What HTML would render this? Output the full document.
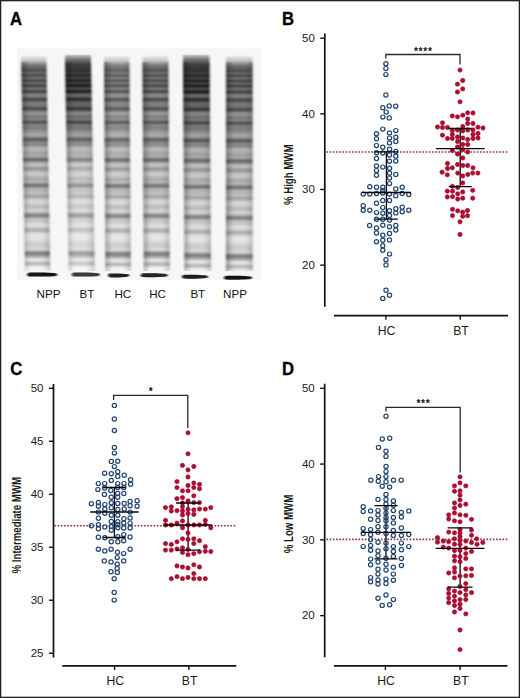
<!DOCTYPE html>
<html><head><meta charset="utf-8"><style>
html,body{margin:0;padding:0;background:#fff;}
svg{display:block;}
</style></head><body>
<svg width="520" height="698" viewBox="0 0 520 698">
<rect width="520" height="698" fill="#fff"/>
<defs><filter id="gblur" x="-10%" y="-10%" width="120%" height="120%"><feGaussianBlur stdDeviation="0.9 0.6"/></filter><linearGradient id="lg1" gradientUnits="userSpaceOnUse" x1="0" y1="48.0" x2="0" y2="280.0"><stop offset="0.0000" stop-color="rgb(246,246,246)"/><stop offset="0.0043" stop-color="rgb(246,246,246)"/><stop offset="0.0086" stop-color="rgb(246,246,246)"/><stop offset="0.0129" stop-color="rgb(246,246,246)"/><stop offset="0.0172" stop-color="rgb(246,246,246)"/><stop offset="0.0216" stop-color="rgb(246,246,246)"/><stop offset="0.0259" stop-color="rgb(246,246,246)"/><stop offset="0.0302" stop-color="rgb(246,246,246)"/><stop offset="0.0345" stop-color="rgb(236,236,236)"/><stop offset="0.0388" stop-color="rgb(226,226,226)"/><stop offset="0.0431" stop-color="rgb(216,216,216)"/><stop offset="0.0474" stop-color="rgb(207,207,207)"/><stop offset="0.0517" stop-color="rgb(198,198,198)"/><stop offset="0.0560" stop-color="rgb(187,187,187)"/><stop offset="0.0603" stop-color="rgb(173,173,173)"/><stop offset="0.0647" stop-color="rgb(156,156,156)"/><stop offset="0.0690" stop-color="rgb(137,137,137)"/><stop offset="0.0733" stop-color="rgb(124,124,124)"/><stop offset="0.0776" stop-color="rgb(113,113,113)"/><stop offset="0.0819" stop-color="rgb(105,105,105)"/><stop offset="0.0862" stop-color="rgb(98,98,98)"/><stop offset="0.0905" stop-color="rgb(93,93,93)"/><stop offset="0.0948" stop-color="rgb(85,85,85)"/><stop offset="0.0991" stop-color="rgb(84,84,84)"/><stop offset="0.1034" stop-color="rgb(95,95,95)"/><stop offset="0.1078" stop-color="rgb(103,103,103)"/><stop offset="0.1121" stop-color="rgb(96,96,96)"/><stop offset="0.1164" stop-color="rgb(82,82,82)"/><stop offset="0.1207" stop-color="rgb(83,83,83)"/><stop offset="0.1250" stop-color="rgb(99,99,99)"/><stop offset="0.1293" stop-color="rgb(109,109,109)"/><stop offset="0.1336" stop-color="rgb(99,99,99)"/><stop offset="0.1379" stop-color="rgb(81,81,81)"/><stop offset="0.1422" stop-color="rgb(78,78,78)"/><stop offset="0.1466" stop-color="rgb(93,93,93)"/><stop offset="0.1509" stop-color="rgb(104,104,104)"/><stop offset="0.1552" stop-color="rgb(95,95,95)"/><stop offset="0.1595" stop-color="rgb(79,79,79)"/><stop offset="0.1638" stop-color="rgb(75,75,75)"/><stop offset="0.1681" stop-color="rgb(90,90,90)"/><stop offset="0.1724" stop-color="rgb(108,108,108)"/><stop offset="0.1767" stop-color="rgb(110,110,110)"/><stop offset="0.1810" stop-color="rgb(94,94,94)"/><stop offset="0.1853" stop-color="rgb(77,77,77)"/><stop offset="0.1897" stop-color="rgb(77,77,77)"/><stop offset="0.1940" stop-color="rgb(97,97,97)"/><stop offset="0.1983" stop-color="rgb(119,119,119)"/><stop offset="0.2026" stop-color="rgb(131,131,131)"/><stop offset="0.2069" stop-color="rgb(130,130,130)"/><stop offset="0.2112" stop-color="rgb(116,116,116)"/><stop offset="0.2155" stop-color="rgb(94,94,94)"/><stop offset="0.2198" stop-color="rgb(77,77,77)"/><stop offset="0.2241" stop-color="rgb(77,77,77)"/><stop offset="0.2284" stop-color="rgb(94,94,94)"/><stop offset="0.2328" stop-color="rgb(114,114,114)"/><stop offset="0.2371" stop-color="rgb(123,123,123)"/><stop offset="0.2414" stop-color="rgb(123,123,123)"/><stop offset="0.2457" stop-color="rgb(121,121,121)"/><stop offset="0.2500" stop-color="rgb(115,115,115)"/><stop offset="0.2543" stop-color="rgb(101,101,101)"/><stop offset="0.2586" stop-color="rgb(85,85,85)"/><stop offset="0.2629" stop-color="rgb(81,81,81)"/><stop offset="0.2672" stop-color="rgb(95,95,95)"/><stop offset="0.2716" stop-color="rgb(119,119,119)"/><stop offset="0.2759" stop-color="rgb(138,138,138)"/><stop offset="0.2802" stop-color="rgb(147,147,147)"/><stop offset="0.2845" stop-color="rgb(146,146,146)"/><stop offset="0.2888" stop-color="rgb(138,138,138)"/><stop offset="0.2931" stop-color="rgb(128,128,128)"/><stop offset="0.2974" stop-color="rgb(125,125,125)"/><stop offset="0.3017" stop-color="rgb(129,129,129)"/><stop offset="0.3060" stop-color="rgb(132,132,132)"/><stop offset="0.3103" stop-color="rgb(123,123,123)"/><stop offset="0.3147" stop-color="rgb(103,103,103)"/><stop offset="0.3190" stop-color="rgb(89,89,89)"/><stop offset="0.3233" stop-color="rgb(94,94,94)"/><stop offset="0.3276" stop-color="rgb(112,112,112)"/><stop offset="0.3319" stop-color="rgb(129,129,129)"/><stop offset="0.3362" stop-color="rgb(131,131,131)"/><stop offset="0.3405" stop-color="rgb(127,127,127)"/><stop offset="0.3448" stop-color="rgb(127,127,127)"/><stop offset="0.3491" stop-color="rgb(133,133,133)"/><stop offset="0.3534" stop-color="rgb(139,139,139)"/><stop offset="0.3578" stop-color="rgb(145,145,145)"/><stop offset="0.3621" stop-color="rgb(152,152,152)"/><stop offset="0.3664" stop-color="rgb(161,161,161)"/><stop offset="0.3707" stop-color="rgb(167,167,167)"/><stop offset="0.3750" stop-color="rgb(167,167,167)"/><stop offset="0.3793" stop-color="rgb(159,159,159)"/><stop offset="0.3836" stop-color="rgb(142,142,142)"/><stop offset="0.3879" stop-color="rgb(119,119,119)"/><stop offset="0.3922" stop-color="rgb(100,100,100)"/><stop offset="0.3966" stop-color="rgb(99,99,99)"/><stop offset="0.4009" stop-color="rgb(113,113,113)"/><stop offset="0.4052" stop-color="rgb(131,131,131)"/><stop offset="0.4095" stop-color="rgb(138,138,138)"/><stop offset="0.4138" stop-color="rgb(136,136,136)"/><stop offset="0.4181" stop-color="rgb(139,139,139)"/><stop offset="0.4224" stop-color="rgb(151,151,151)"/><stop offset="0.4267" stop-color="rgb(167,167,167)"/><stop offset="0.4310" stop-color="rgb(178,178,178)"/><stop offset="0.4353" stop-color="rgb(182,182,182)"/><stop offset="0.4397" stop-color="rgb(181,181,181)"/><stop offset="0.4440" stop-color="rgb(175,175,175)"/><stop offset="0.4483" stop-color="rgb(168,168,168)"/><stop offset="0.4526" stop-color="rgb(163,163,163)"/><stop offset="0.4569" stop-color="rgb(165,165,165)"/><stop offset="0.4612" stop-color="rgb(169,169,169)"/><stop offset="0.4655" stop-color="rgb(169,169,169)"/><stop offset="0.4698" stop-color="rgb(157,157,157)"/><stop offset="0.4741" stop-color="rgb(135,135,135)"/><stop offset="0.4784" stop-color="rgb(115,115,115)"/><stop offset="0.4828" stop-color="rgb(112,112,112)"/><stop offset="0.4871" stop-color="rgb(128,128,128)"/><stop offset="0.4914" stop-color="rgb(154,154,154)"/><stop offset="0.4957" stop-color="rgb(176,176,176)"/><stop offset="0.5000" stop-color="rgb(188,188,188)"/><stop offset="0.5043" stop-color="rgb(190,190,190)"/><stop offset="0.5086" stop-color="rgb(183,183,183)"/><stop offset="0.5129" stop-color="rgb(170,170,170)"/><stop offset="0.5172" stop-color="rgb(157,157,157)"/><stop offset="0.5216" stop-color="rgb(153,153,153)"/><stop offset="0.5259" stop-color="rgb(162,162,162)"/><stop offset="0.5302" stop-color="rgb(178,178,178)"/><stop offset="0.5345" stop-color="rgb(191,191,191)"/><stop offset="0.5388" stop-color="rgb(197,197,197)"/><stop offset="0.5431" stop-color="rgb(199,199,199)"/><stop offset="0.5474" stop-color="rgb(198,198,198)"/><stop offset="0.5517" stop-color="rgb(192,192,192)"/><stop offset="0.5560" stop-color="rgb(183,183,183)"/><stop offset="0.5603" stop-color="rgb(174,174,174)"/><stop offset="0.5647" stop-color="rgb(170,170,170)"/><stop offset="0.5690" stop-color="rgb(173,173,173)"/><stop offset="0.5733" stop-color="rgb(179,179,179)"/><stop offset="0.5776" stop-color="rgb(177,177,177)"/><stop offset="0.5819" stop-color="rgb(163,163,163)"/><stop offset="0.5862" stop-color="rgb(140,140,140)"/><stop offset="0.5905" stop-color="rgb(121,121,121)"/><stop offset="0.5948" stop-color="rgb(122,122,122)"/><stop offset="0.5991" stop-color="rgb(141,141,141)"/><stop offset="0.6034" stop-color="rgb(165,165,165)"/><stop offset="0.6078" stop-color="rgb(179,179,179)"/><stop offset="0.6121" stop-color="rgb(182,182,182)"/><stop offset="0.6164" stop-color="rgb(182,182,182)"/><stop offset="0.6207" stop-color="rgb(186,186,186)"/><stop offset="0.6250" stop-color="rgb(190,190,190)"/><stop offset="0.6293" stop-color="rgb(186,186,186)"/><stop offset="0.6336" stop-color="rgb(175,175,175)"/><stop offset="0.6379" stop-color="rgb(166,166,166)"/><stop offset="0.6422" stop-color="rgb(170,170,170)"/><stop offset="0.6466" stop-color="rgb(184,184,184)"/><stop offset="0.6509" stop-color="rgb(199,199,199)"/><stop offset="0.6552" stop-color="rgb(208,208,208)"/><stop offset="0.6595" stop-color="rgb(213,213,213)"/><stop offset="0.6638" stop-color="rgb(213,213,213)"/><stop offset="0.6681" stop-color="rgb(210,210,210)"/><stop offset="0.6724" stop-color="rgb(204,204,204)"/><stop offset="0.6767" stop-color="rgb(196,196,196)"/><stop offset="0.6810" stop-color="rgb(189,189,189)"/><stop offset="0.6853" stop-color="rgb(189,189,189)"/><stop offset="0.6897" stop-color="rgb(195,195,195)"/><stop offset="0.6940" stop-color="rgb(204,204,204)"/><stop offset="0.6983" stop-color="rgb(210,210,210)"/><stop offset="0.7026" stop-color="rgb(208,208,208)"/><stop offset="0.7069" stop-color="rgb(197,197,197)"/><stop offset="0.7112" stop-color="rgb(177,177,177)"/><stop offset="0.7155" stop-color="rgb(153,153,153)"/><stop offset="0.7198" stop-color="rgb(136,136,136)"/><stop offset="0.7241" stop-color="rgb(136,136,136)"/><stop offset="0.7284" stop-color="rgb(153,153,153)"/><stop offset="0.7328" stop-color="rgb(176,176,176)"/><stop offset="0.7371" stop-color="rgb(193,193,193)"/><stop offset="0.7414" stop-color="rgb(199,199,199)"/><stop offset="0.7457" stop-color="rgb(200,200,200)"/><stop offset="0.7500" stop-color="rgb(204,204,204)"/><stop offset="0.7543" stop-color="rgb(212,212,212)"/><stop offset="0.7586" stop-color="rgb(219,219,219)"/><stop offset="0.7629" stop-color="rgb(222,222,222)"/><stop offset="0.7672" stop-color="rgb(220,220,220)"/><stop offset="0.7716" stop-color="rgb(212,212,212)"/><stop offset="0.7759" stop-color="rgb(198,198,198)"/><stop offset="0.7802" stop-color="rgb(184,184,184)"/><stop offset="0.7845" stop-color="rgb(177,177,177)"/><stop offset="0.7888" stop-color="rgb(182,182,182)"/><stop offset="0.7931" stop-color="rgb(197,197,197)"/><stop offset="0.7974" stop-color="rgb(212,212,212)"/><stop offset="0.8017" stop-color="rgb(222,222,222)"/><stop offset="0.8060" stop-color="rgb(227,227,227)"/><stop offset="0.8103" stop-color="rgb(229,229,229)"/><stop offset="0.8147" stop-color="rgb(229,229,229)"/><stop offset="0.8190" stop-color="rgb(229,229,229)"/><stop offset="0.8233" stop-color="rgb(227,227,227)"/><stop offset="0.8276" stop-color="rgb(224,224,224)"/><stop offset="0.8319" stop-color="rgb(218,218,218)"/><stop offset="0.8362" stop-color="rgb(213,213,213)"/><stop offset="0.8405" stop-color="rgb(209,209,209)"/><stop offset="0.8448" stop-color="rgb(207,207,207)"/><stop offset="0.8491" stop-color="rgb(206,206,206)"/><stop offset="0.8534" stop-color="rgb(206,206,206)"/><stop offset="0.8578" stop-color="rgb(209,209,209)"/><stop offset="0.8621" stop-color="rgb(215,215,215)"/><stop offset="0.8664" stop-color="rgb(215,215,215)"/><stop offset="0.8707" stop-color="rgb(202,202,202)"/><stop offset="0.8750" stop-color="rgb(178,178,178)"/><stop offset="0.8793" stop-color="rgb(150,150,150)"/><stop offset="0.8836" stop-color="rgb(132,132,132)"/><stop offset="0.8879" stop-color="rgb(134,134,134)"/><stop offset="0.8922" stop-color="rgb(148,148,148)"/><stop offset="0.8966" stop-color="rgb(165,165,165)"/><stop offset="0.9009" stop-color="rgb(184,184,184)"/><stop offset="0.9052" stop-color="rgb(206,206,206)"/><stop offset="0.9095" stop-color="rgb(224,224,224)"/><stop offset="0.9138" stop-color="rgb(229,229,229)"/><stop offset="0.9181" stop-color="rgb(221,221,221)"/><stop offset="0.9224" stop-color="rgb(204,204,204)"/><stop offset="0.9267" stop-color="rgb(189,189,189)"/><stop offset="0.9310" stop-color="rgb(187,187,187)"/><stop offset="0.9353" stop-color="rgb(202,202,202)"/><stop offset="0.9397" stop-color="rgb(222,222,222)"/><stop offset="0.9440" stop-color="rgb(236,236,236)"/><stop offset="0.9483" stop-color="rgb(243,243,243)"/><stop offset="0.9526" stop-color="rgb(245,245,245)"/><stop offset="0.9569" stop-color="rgb(246,246,246)"/><stop offset="0.9612" stop-color="rgb(246,246,246)"/><stop offset="0.9655" stop-color="rgb(246,246,246)"/><stop offset="0.9698" stop-color="rgb(246,246,246)"/><stop offset="0.9741" stop-color="rgb(246,246,246)"/><stop offset="0.9784" stop-color="rgb(246,246,246)"/><stop offset="0.9828" stop-color="rgb(246,246,246)"/><stop offset="0.9871" stop-color="rgb(246,246,246)"/><stop offset="0.9914" stop-color="rgb(246,246,246)"/><stop offset="0.9957" stop-color="rgb(246,246,246)"/><stop offset="1.0000" stop-color="rgb(246,246,246)"/></linearGradient><linearGradient id="eg1" x1="0" y1="0" x2="1" y2="0"><stop offset="0" stop-color="#000" stop-opacity="0.32"/><stop offset="0.15" stop-color="#000" stop-opacity="0.14"/><stop offset="0.3" stop-color="#000" stop-opacity="0"/><stop offset="0.7" stop-color="#000" stop-opacity="0"/><stop offset="0.87" stop-color="#000" stop-opacity="0.08"/><stop offset="1" stop-color="#000" stop-opacity="0.2"/></linearGradient><linearGradient id="lg2" gradientUnits="userSpaceOnUse" x1="0" y1="48.0" x2="0" y2="280.0"><stop offset="0.0000" stop-color="rgb(246,246,246)"/><stop offset="0.0043" stop-color="rgb(246,246,246)"/><stop offset="0.0086" stop-color="rgb(246,246,246)"/><stop offset="0.0129" stop-color="rgb(246,246,246)"/><stop offset="0.0172" stop-color="rgb(246,246,246)"/><stop offset="0.0216" stop-color="rgb(246,246,246)"/><stop offset="0.0259" stop-color="rgb(246,246,246)"/><stop offset="0.0302" stop-color="rgb(212,212,212)"/><stop offset="0.0345" stop-color="rgb(177,177,177)"/><stop offset="0.0388" stop-color="rgb(160,160,160)"/><stop offset="0.0431" stop-color="rgb(143,143,143)"/><stop offset="0.0474" stop-color="rgb(125,125,125)"/><stop offset="0.0517" stop-color="rgb(108,108,108)"/><stop offset="0.0560" stop-color="rgb(101,101,101)"/><stop offset="0.0603" stop-color="rgb(92,92,92)"/><stop offset="0.0647" stop-color="rgb(79,79,79)"/><stop offset="0.0690" stop-color="rgb(66,66,66)"/><stop offset="0.0733" stop-color="rgb(62,62,62)"/><stop offset="0.0776" stop-color="rgb(60,60,60)"/><stop offset="0.0819" stop-color="rgb(57,57,57)"/><stop offset="0.0862" stop-color="rgb(55,55,55)"/><stop offset="0.0905" stop-color="rgb(55,55,55)"/><stop offset="0.0948" stop-color="rgb(52,52,52)"/><stop offset="0.0991" stop-color="rgb(51,51,51)"/><stop offset="0.1034" stop-color="rgb(57,57,57)"/><stop offset="0.1078" stop-color="rgb(62,62,62)"/><stop offset="0.1121" stop-color="rgb(56,56,56)"/><stop offset="0.1164" stop-color="rgb(45,45,45)"/><stop offset="0.1207" stop-color="rgb(46,46,46)"/><stop offset="0.1250" stop-color="rgb(58,58,58)"/><stop offset="0.1293" stop-color="rgb(65,65,65)"/><stop offset="0.1336" stop-color="rgb(56,56,56)"/><stop offset="0.1379" stop-color="rgb(42,42,42)"/><stop offset="0.1422" stop-color="rgb(40,40,40)"/><stop offset="0.1466" stop-color="rgb(54,54,54)"/><stop offset="0.1509" stop-color="rgb(63,63,63)"/><stop offset="0.1552" stop-color="rgb(54,54,54)"/><stop offset="0.1595" stop-color="rgb(37,37,37)"/><stop offset="0.1638" stop-color="rgb(35,35,35)"/><stop offset="0.1681" stop-color="rgb(51,51,51)"/><stop offset="0.1724" stop-color="rgb(70,70,70)"/><stop offset="0.1767" stop-color="rgb(72,72,72)"/><stop offset="0.1810" stop-color="rgb(55,55,55)"/><stop offset="0.1853" stop-color="rgb(36,36,36)"/><stop offset="0.1897" stop-color="rgb(38,38,38)"/><stop offset="0.1940" stop-color="rgb(62,62,62)"/><stop offset="0.1983" stop-color="rgb(89,89,89)"/><stop offset="0.2026" stop-color="rgb(104,104,104)"/><stop offset="0.2069" stop-color="rgb(103,103,103)"/><stop offset="0.2112" stop-color="rgb(89,89,89)"/><stop offset="0.2155" stop-color="rgb(66,66,66)"/><stop offset="0.2198" stop-color="rgb(49,49,49)"/><stop offset="0.2241" stop-color="rgb(50,50,50)"/><stop offset="0.2284" stop-color="rgb(70,70,70)"/><stop offset="0.2328" stop-color="rgb(92,92,92)"/><stop offset="0.2371" stop-color="rgb(102,102,102)"/><stop offset="0.2414" stop-color="rgb(103,103,103)"/><stop offset="0.2457" stop-color="rgb(101,101,101)"/><stop offset="0.2500" stop-color="rgb(96,96,96)"/><stop offset="0.2543" stop-color="rgb(81,81,81)"/><stop offset="0.2586" stop-color="rgb(64,64,64)"/><stop offset="0.2629" stop-color="rgb(60,60,60)"/><stop offset="0.2672" stop-color="rgb(76,76,76)"/><stop offset="0.2716" stop-color="rgb(102,102,102)"/><stop offset="0.2759" stop-color="rgb(123,123,123)"/><stop offset="0.2802" stop-color="rgb(133,133,133)"/><stop offset="0.2845" stop-color="rgb(132,132,132)"/><stop offset="0.2888" stop-color="rgb(124,124,124)"/><stop offset="0.2931" stop-color="rgb(114,114,114)"/><stop offset="0.2974" stop-color="rgb(111,111,111)"/><stop offset="0.3017" stop-color="rgb(116,116,116)"/><stop offset="0.3060" stop-color="rgb(119,119,119)"/><stop offset="0.3103" stop-color="rgb(110,110,110)"/><stop offset="0.3147" stop-color="rgb(90,90,90)"/><stop offset="0.3190" stop-color="rgb(76,76,76)"/><stop offset="0.3233" stop-color="rgb(81,81,81)"/><stop offset="0.3276" stop-color="rgb(101,101,101)"/><stop offset="0.3319" stop-color="rgb(118,118,118)"/><stop offset="0.3362" stop-color="rgb(121,121,121)"/><stop offset="0.3405" stop-color="rgb(117,117,117)"/><stop offset="0.3448" stop-color="rgb(117,117,117)"/><stop offset="0.3491" stop-color="rgb(124,124,124)"/><stop offset="0.3534" stop-color="rgb(131,131,131)"/><stop offset="0.3578" stop-color="rgb(137,137,137)"/><stop offset="0.3621" stop-color="rgb(145,145,145)"/><stop offset="0.3664" stop-color="rgb(155,155,155)"/><stop offset="0.3707" stop-color="rgb(161,161,161)"/><stop offset="0.3750" stop-color="rgb(162,162,162)"/><stop offset="0.3793" stop-color="rgb(156,156,156)"/><stop offset="0.3836" stop-color="rgb(140,140,140)"/><stop offset="0.3879" stop-color="rgb(119,119,119)"/><stop offset="0.3922" stop-color="rgb(103,103,103)"/><stop offset="0.3966" stop-color="rgb(102,102,102)"/><stop offset="0.4009" stop-color="rgb(117,117,117)"/><stop offset="0.4052" stop-color="rgb(134,134,134)"/><stop offset="0.4095" stop-color="rgb(142,142,142)"/><stop offset="0.4138" stop-color="rgb(142,142,142)"/><stop offset="0.4181" stop-color="rgb(145,145,145)"/><stop offset="0.4224" stop-color="rgb(157,157,157)"/><stop offset="0.4267" stop-color="rgb(172,172,172)"/><stop offset="0.4310" stop-color="rgb(183,183,183)"/><stop offset="0.4353" stop-color="rgb(187,187,187)"/><stop offset="0.4397" stop-color="rgb(186,186,186)"/><stop offset="0.4440" stop-color="rgb(182,182,182)"/><stop offset="0.4483" stop-color="rgb(177,177,177)"/><stop offset="0.4526" stop-color="rgb(174,174,174)"/><stop offset="0.4569" stop-color="rgb(175,175,175)"/><stop offset="0.4612" stop-color="rgb(180,180,180)"/><stop offset="0.4655" stop-color="rgb(180,180,180)"/><stop offset="0.4698" stop-color="rgb(171,171,171)"/><stop offset="0.4741" stop-color="rgb(154,154,154)"/><stop offset="0.4784" stop-color="rgb(138,138,138)"/><stop offset="0.4828" stop-color="rgb(137,137,137)"/><stop offset="0.4871" stop-color="rgb(151,151,151)"/><stop offset="0.4914" stop-color="rgb(172,172,172)"/><stop offset="0.4957" stop-color="rgb(190,190,190)"/><stop offset="0.5000" stop-color="rgb(200,200,200)"/><stop offset="0.5043" stop-color="rgb(202,202,202)"/><stop offset="0.5086" stop-color="rgb(197,197,197)"/><stop offset="0.5129" stop-color="rgb(187,187,187)"/><stop offset="0.5172" stop-color="rgb(178,178,178)"/><stop offset="0.5216" stop-color="rgb(176,176,176)"/><stop offset="0.5259" stop-color="rgb(183,183,183)"/><stop offset="0.5302" stop-color="rgb(195,195,195)"/><stop offset="0.5345" stop-color="rgb(205,205,205)"/><stop offset="0.5388" stop-color="rgb(210,210,210)"/><stop offset="0.5431" stop-color="rgb(211,211,211)"/><stop offset="0.5474" stop-color="rgb(210,210,210)"/><stop offset="0.5517" stop-color="rgb(205,205,205)"/><stop offset="0.5560" stop-color="rgb(199,199,199)"/><stop offset="0.5603" stop-color="rgb(192,192,192)"/><stop offset="0.5647" stop-color="rgb(189,189,189)"/><stop offset="0.5690" stop-color="rgb(191,191,191)"/><stop offset="0.5733" stop-color="rgb(196,196,196)"/><stop offset="0.5776" stop-color="rgb(195,195,195)"/><stop offset="0.5819" stop-color="rgb(184,184,184)"/><stop offset="0.5862" stop-color="rgb(166,166,166)"/><stop offset="0.5905" stop-color="rgb(152,152,152)"/><stop offset="0.5948" stop-color="rgb(153,153,153)"/><stop offset="0.5991" stop-color="rgb(167,167,167)"/><stop offset="0.6034" stop-color="rgb(185,185,185)"/><stop offset="0.6078" stop-color="rgb(196,196,196)"/><stop offset="0.6121" stop-color="rgb(198,198,198)"/><stop offset="0.6164" stop-color="rgb(198,198,198)"/><stop offset="0.6207" stop-color="rgb(201,201,201)"/><stop offset="0.6250" stop-color="rgb(204,204,204)"/><stop offset="0.6293" stop-color="rgb(201,201,201)"/><stop offset="0.6336" stop-color="rgb(193,193,193)"/><stop offset="0.6379" stop-color="rgb(186,186,186)"/><stop offset="0.6422" stop-color="rgb(189,189,189)"/><stop offset="0.6466" stop-color="rgb(199,199,199)"/><stop offset="0.6509" stop-color="rgb(210,210,210)"/><stop offset="0.6552" stop-color="rgb(218,218,218)"/><stop offset="0.6595" stop-color="rgb(221,221,221)"/><stop offset="0.6638" stop-color="rgb(221,221,221)"/><stop offset="0.6681" stop-color="rgb(219,219,219)"/><stop offset="0.6724" stop-color="rgb(214,214,214)"/><stop offset="0.6767" stop-color="rgb(208,208,208)"/><stop offset="0.6810" stop-color="rgb(203,203,203)"/><stop offset="0.6853" stop-color="rgb(203,203,203)"/><stop offset="0.6897" stop-color="rgb(208,208,208)"/><stop offset="0.6940" stop-color="rgb(214,214,214)"/><stop offset="0.6983" stop-color="rgb(219,219,219)"/><stop offset="0.7026" stop-color="rgb(218,218,218)"/><stop offset="0.7069" stop-color="rgb(210,210,210)"/><stop offset="0.7112" stop-color="rgb(194,194,194)"/><stop offset="0.7155" stop-color="rgb(176,176,176)"/><stop offset="0.7198" stop-color="rgb(164,164,164)"/><stop offset="0.7241" stop-color="rgb(164,164,164)"/><stop offset="0.7284" stop-color="rgb(177,177,177)"/><stop offset="0.7328" stop-color="rgb(194,194,194)"/><stop offset="0.7371" stop-color="rgb(206,206,206)"/><stop offset="0.7414" stop-color="rgb(211,211,211)"/><stop offset="0.7457" stop-color="rgb(212,212,212)"/><stop offset="0.7500" stop-color="rgb(215,215,215)"/><stop offset="0.7543" stop-color="rgb(220,220,220)"/><stop offset="0.7586" stop-color="rgb(226,226,226)"/><stop offset="0.7629" stop-color="rgb(228,228,228)"/><stop offset="0.7672" stop-color="rgb(226,226,226)"/><stop offset="0.7716" stop-color="rgb(220,220,220)"/><stop offset="0.7759" stop-color="rgb(210,210,210)"/><stop offset="0.7802" stop-color="rgb(200,200,200)"/><stop offset="0.7845" stop-color="rgb(194,194,194)"/><stop offset="0.7888" stop-color="rgb(198,198,198)"/><stop offset="0.7931" stop-color="rgb(209,209,209)"/><stop offset="0.7974" stop-color="rgb(220,220,220)"/><stop offset="0.8017" stop-color="rgb(228,228,228)"/><stop offset="0.8060" stop-color="rgb(232,232,232)"/><stop offset="0.8103" stop-color="rgb(233,233,233)"/><stop offset="0.8147" stop-color="rgb(234,234,234)"/><stop offset="0.8190" stop-color="rgb(233,233,233)"/><stop offset="0.8233" stop-color="rgb(232,232,232)"/><stop offset="0.8276" stop-color="rgb(229,229,229)"/><stop offset="0.8319" stop-color="rgb(225,225,225)"/><stop offset="0.8362" stop-color="rgb(221,221,221)"/><stop offset="0.8405" stop-color="rgb(218,218,218)"/><stop offset="0.8448" stop-color="rgb(217,217,217)"/><stop offset="0.8491" stop-color="rgb(216,216,216)"/><stop offset="0.8534" stop-color="rgb(216,216,216)"/><stop offset="0.8578" stop-color="rgb(218,218,218)"/><stop offset="0.8621" stop-color="rgb(223,223,223)"/><stop offset="0.8664" stop-color="rgb(223,223,223)"/><stop offset="0.8707" stop-color="rgb(213,213,213)"/><stop offset="0.8750" stop-color="rgb(195,195,195)"/><stop offset="0.8793" stop-color="rgb(174,174,174)"/><stop offset="0.8836" stop-color="rgb(161,161,161)"/><stop offset="0.8879" stop-color="rgb(162,162,162)"/><stop offset="0.8922" stop-color="rgb(173,173,173)"/><stop offset="0.8966" stop-color="rgb(186,186,186)"/><stop offset="0.9009" stop-color="rgb(200,200,200)"/><stop offset="0.9052" stop-color="rgb(216,216,216)"/><stop offset="0.9095" stop-color="rgb(229,229,229)"/><stop offset="0.9138" stop-color="rgb(233,233,233)"/><stop offset="0.9181" stop-color="rgb(227,227,227)"/><stop offset="0.9224" stop-color="rgb(214,214,214)"/><stop offset="0.9267" stop-color="rgb(203,203,203)"/><stop offset="0.9310" stop-color="rgb(202,202,202)"/><stop offset="0.9353" stop-color="rgb(213,213,213)"/><stop offset="0.9397" stop-color="rgb(228,228,228)"/><stop offset="0.9440" stop-color="rgb(239,239,239)"/><stop offset="0.9483" stop-color="rgb(244,244,244)"/><stop offset="0.9526" stop-color="rgb(246,246,246)"/><stop offset="0.9569" stop-color="rgb(246,246,246)"/><stop offset="0.9612" stop-color="rgb(246,246,246)"/><stop offset="0.9655" stop-color="rgb(246,246,246)"/><stop offset="0.9698" stop-color="rgb(246,246,246)"/><stop offset="0.9741" stop-color="rgb(246,246,246)"/><stop offset="0.9784" stop-color="rgb(246,246,246)"/><stop offset="0.9828" stop-color="rgb(246,246,246)"/><stop offset="0.9871" stop-color="rgb(246,246,246)"/><stop offset="0.9914" stop-color="rgb(246,246,246)"/><stop offset="0.9957" stop-color="rgb(246,246,246)"/><stop offset="1.0000" stop-color="rgb(246,246,246)"/></linearGradient><linearGradient id="eg2" x1="0" y1="0" x2="1" y2="0"><stop offset="0" stop-color="#000" stop-opacity="0.32"/><stop offset="0.15" stop-color="#000" stop-opacity="0.14"/><stop offset="0.3" stop-color="#000" stop-opacity="0"/><stop offset="0.7" stop-color="#000" stop-opacity="0"/><stop offset="0.87" stop-color="#000" stop-opacity="0.08"/><stop offset="1" stop-color="#000" stop-opacity="0.2"/></linearGradient><linearGradient id="lg3" gradientUnits="userSpaceOnUse" x1="0" y1="48.0" x2="0" y2="280.0"><stop offset="0.0000" stop-color="rgb(246,246,246)"/><stop offset="0.0043" stop-color="rgb(246,246,246)"/><stop offset="0.0086" stop-color="rgb(246,246,246)"/><stop offset="0.0129" stop-color="rgb(246,246,246)"/><stop offset="0.0172" stop-color="rgb(246,246,246)"/><stop offset="0.0216" stop-color="rgb(246,246,246)"/><stop offset="0.0259" stop-color="rgb(246,246,246)"/><stop offset="0.0302" stop-color="rgb(246,246,246)"/><stop offset="0.0345" stop-color="rgb(238,238,238)"/><stop offset="0.0388" stop-color="rgb(229,229,229)"/><stop offset="0.0431" stop-color="rgb(221,221,221)"/><stop offset="0.0474" stop-color="rgb(213,213,213)"/><stop offset="0.0517" stop-color="rgb(205,205,205)"/><stop offset="0.0560" stop-color="rgb(196,196,196)"/><stop offset="0.0603" stop-color="rgb(183,183,183)"/><stop offset="0.0647" stop-color="rgb(167,167,167)"/><stop offset="0.0690" stop-color="rgb(150,150,150)"/><stop offset="0.0733" stop-color="rgb(138,138,138)"/><stop offset="0.0776" stop-color="rgb(128,128,128)"/><stop offset="0.0819" stop-color="rgb(120,120,120)"/><stop offset="0.0862" stop-color="rgb(114,114,114)"/><stop offset="0.0905" stop-color="rgb(110,110,110)"/><stop offset="0.0948" stop-color="rgb(102,102,102)"/><stop offset="0.0991" stop-color="rgb(101,101,101)"/><stop offset="0.1034" stop-color="rgb(111,111,111)"/><stop offset="0.1078" stop-color="rgb(120,120,120)"/><stop offset="0.1121" stop-color="rgb(114,114,114)"/><stop offset="0.1164" stop-color="rgb(99,99,99)"/><stop offset="0.1207" stop-color="rgb(99,99,99)"/><stop offset="0.1250" stop-color="rgb(114,114,114)"/><stop offset="0.1293" stop-color="rgb(125,125,125)"/><stop offset="0.1336" stop-color="rgb(117,117,117)"/><stop offset="0.1379" stop-color="rgb(99,99,99)"/><stop offset="0.1422" stop-color="rgb(94,94,94)"/><stop offset="0.1466" stop-color="rgb(108,108,108)"/><stop offset="0.1509" stop-color="rgb(120,120,120)"/><stop offset="0.1552" stop-color="rgb(113,113,113)"/><stop offset="0.1595" stop-color="rgb(96,96,96)"/><stop offset="0.1638" stop-color="rgb(90,90,90)"/><stop offset="0.1681" stop-color="rgb(104,104,104)"/><stop offset="0.1724" stop-color="rgb(122,122,122)"/><stop offset="0.1767" stop-color="rgb(127,127,127)"/><stop offset="0.1810" stop-color="rgb(112,112,112)"/><stop offset="0.1853" stop-color="rgb(94,94,94)"/><stop offset="0.1897" stop-color="rgb(92,92,92)"/><stop offset="0.1940" stop-color="rgb(110,110,110)"/><stop offset="0.1983" stop-color="rgb(132,132,132)"/><stop offset="0.2026" stop-color="rgb(146,146,146)"/><stop offset="0.2069" stop-color="rgb(146,146,146)"/><stop offset="0.2112" stop-color="rgb(134,134,134)"/><stop offset="0.2155" stop-color="rgb(113,113,113)"/><stop offset="0.2198" stop-color="rgb(95,95,95)"/><stop offset="0.2241" stop-color="rgb(92,92,92)"/><stop offset="0.2284" stop-color="rgb(106,106,106)"/><stop offset="0.2328" stop-color="rgb(126,126,126)"/><stop offset="0.2371" stop-color="rgb(137,137,137)"/><stop offset="0.2414" stop-color="rgb(138,138,138)"/><stop offset="0.2457" stop-color="rgb(136,136,136)"/><stop offset="0.2500" stop-color="rgb(132,132,132)"/><stop offset="0.2543" stop-color="rgb(119,119,119)"/><stop offset="0.2586" stop-color="rgb(102,102,102)"/><stop offset="0.2629" stop-color="rgb(94,94,94)"/><stop offset="0.2672" stop-color="rgb(105,105,105)"/><stop offset="0.2716" stop-color="rgb(128,128,128)"/><stop offset="0.2759" stop-color="rgb(149,149,149)"/><stop offset="0.2802" stop-color="rgb(160,160,160)"/><stop offset="0.2845" stop-color="rgb(161,161,161)"/><stop offset="0.2888" stop-color="rgb(154,154,154)"/><stop offset="0.2931" stop-color="rgb(143,143,143)"/><stop offset="0.2974" stop-color="rgb(138,138,138)"/><stop offset="0.3017" stop-color="rgb(141,141,141)"/><stop offset="0.3060" stop-color="rgb(146,146,146)"/><stop offset="0.3103" stop-color="rgb(139,139,139)"/><stop offset="0.3147" stop-color="rgb(121,121,121)"/><stop offset="0.3190" stop-color="rgb(104,104,104)"/><stop offset="0.3233" stop-color="rgb(103,103,103)"/><stop offset="0.3276" stop-color="rgb(120,120,120)"/><stop offset="0.3319" stop-color="rgb(138,138,138)"/><stop offset="0.3362" stop-color="rgb(144,144,144)"/><stop offset="0.3405" stop-color="rgb(140,140,140)"/><stop offset="0.3448" stop-color="rgb(138,138,138)"/><stop offset="0.3491" stop-color="rgb(143,143,143)"/><stop offset="0.3534" stop-color="rgb(149,149,149)"/><stop offset="0.3578" stop-color="rgb(155,155,155)"/><stop offset="0.3621" stop-color="rgb(161,161,161)"/><stop offset="0.3664" stop-color="rgb(170,170,170)"/><stop offset="0.3707" stop-color="rgb(177,177,177)"/><stop offset="0.3750" stop-color="rgb(178,178,178)"/><stop offset="0.3793" stop-color="rgb(173,173,173)"/><stop offset="0.3836" stop-color="rgb(159,159,159)"/><stop offset="0.3879" stop-color="rgb(136,136,136)"/><stop offset="0.3922" stop-color="rgb(115,115,115)"/><stop offset="0.3966" stop-color="rgb(107,107,107)"/><stop offset="0.4009" stop-color="rgb(118,118,118)"/><stop offset="0.4052" stop-color="rgb(136,136,136)"/><stop offset="0.4095" stop-color="rgb(147,147,147)"/><stop offset="0.4138" stop-color="rgb(147,147,147)"/><stop offset="0.4181" stop-color="rgb(146,146,146)"/><stop offset="0.4224" stop-color="rgb(156,156,156)"/><stop offset="0.4267" stop-color="rgb(172,172,172)"/><stop offset="0.4310" stop-color="rgb(185,185,185)"/><stop offset="0.4353" stop-color="rgb(191,191,191)"/><stop offset="0.4397" stop-color="rgb(191,191,191)"/><stop offset="0.4440" stop-color="rgb(187,187,187)"/><stop offset="0.4483" stop-color="rgb(179,179,179)"/><stop offset="0.4526" stop-color="rgb(173,173,173)"/><stop offset="0.4569" stop-color="rgb(172,172,172)"/><stop offset="0.4612" stop-color="rgb(176,176,176)"/><stop offset="0.4655" stop-color="rgb(179,179,179)"/><stop offset="0.4698" stop-color="rgb(171,171,171)"/><stop offset="0.4741" stop-color="rgb(151,151,151)"/><stop offset="0.4784" stop-color="rgb(129,129,129)"/><stop offset="0.4828" stop-color="rgb(118,118,118)"/><stop offset="0.4871" stop-color="rgb(127,127,127)"/><stop offset="0.4914" stop-color="rgb(151,151,151)"/><stop offset="0.4957" stop-color="rgb(176,176,176)"/><stop offset="0.5000" stop-color="rgb(192,192,192)"/><stop offset="0.5043" stop-color="rgb(197,197,197)"/><stop offset="0.5086" stop-color="rgb(194,194,194)"/><stop offset="0.5129" stop-color="rgb(183,183,183)"/><stop offset="0.5172" stop-color="rgb(169,169,169)"/><stop offset="0.5216" stop-color="rgb(160,160,160)"/><stop offset="0.5259" stop-color="rgb(164,164,164)"/><stop offset="0.5302" stop-color="rgb(178,178,178)"/><stop offset="0.5345" stop-color="rgb(193,193,193)"/><stop offset="0.5388" stop-color="rgb(202,202,202)"/><stop offset="0.5431" stop-color="rgb(206,206,206)"/><stop offset="0.5474" stop-color="rgb(205,205,205)"/><stop offset="0.5517" stop-color="rgb(201,201,201)"/><stop offset="0.5560" stop-color="rgb(194,194,194)"/><stop offset="0.5603" stop-color="rgb(184,184,184)"/><stop offset="0.5647" stop-color="rgb(177,177,177)"/><stop offset="0.5690" stop-color="rgb(177,177,177)"/><stop offset="0.5733" stop-color="rgb(183,183,183)"/><stop offset="0.5776" stop-color="rgb(186,186,186)"/><stop offset="0.5819" stop-color="rgb(177,177,177)"/><stop offset="0.5862" stop-color="rgb(157,157,157)"/><stop offset="0.5905" stop-color="rgb(134,134,134)"/><stop offset="0.5948" stop-color="rgb(125,125,125)"/><stop offset="0.5991" stop-color="rgb(136,136,136)"/><stop offset="0.6034" stop-color="rgb(159,159,159)"/><stop offset="0.6078" stop-color="rgb(179,179,179)"/><stop offset="0.6121" stop-color="rgb(187,187,187)"/><stop offset="0.6164" stop-color="rgb(187,187,187)"/><stop offset="0.6207" stop-color="rgb(189,189,189)"/><stop offset="0.6250" stop-color="rgb(194,194,194)"/><stop offset="0.6293" stop-color="rgb(194,194,194)"/><stop offset="0.6336" stop-color="rgb(186,186,186)"/><stop offset="0.6379" stop-color="rgb(175,175,175)"/><stop offset="0.6422" stop-color="rgb(171,171,171)"/><stop offset="0.6466" stop-color="rgb(181,181,181)"/><stop offset="0.6509" stop-color="rgb(196,196,196)"/><stop offset="0.6552" stop-color="rgb(209,209,209)"/><stop offset="0.6595" stop-color="rgb(216,216,216)"/><stop offset="0.6638" stop-color="rgb(218,218,218)"/><stop offset="0.6681" stop-color="rgb(217,217,217)"/><stop offset="0.6724" stop-color="rgb(212,212,212)"/><stop offset="0.6767" stop-color="rgb(205,205,205)"/><stop offset="0.6810" stop-color="rgb(196,196,196)"/><stop offset="0.6853" stop-color="rgb(192,192,192)"/><stop offset="0.6897" stop-color="rgb(195,195,195)"/><stop offset="0.6940" stop-color="rgb(203,203,203)"/><stop offset="0.6983" stop-color="rgb(211,211,211)"/><stop offset="0.7026" stop-color="rgb(214,214,214)"/><stop offset="0.7069" stop-color="rgb(209,209,209)"/><stop offset="0.7112" stop-color="rgb(194,194,194)"/><stop offset="0.7155" stop-color="rgb(171,171,171)"/><stop offset="0.7198" stop-color="rgb(148,148,148)"/><stop offset="0.7241" stop-color="rgb(137,137,137)"/><stop offset="0.7284" stop-color="rgb(145,145,145)"/><stop offset="0.7328" stop-color="rgb(166,166,166)"/><stop offset="0.7371" stop-color="rgb(188,188,188)"/><stop offset="0.7414" stop-color="rgb(200,200,200)"/><stop offset="0.7457" stop-color="rgb(203,203,203)"/><stop offset="0.7500" stop-color="rgb(205,205,205)"/><stop offset="0.7543" stop-color="rgb(210,210,210)"/><stop offset="0.7586" stop-color="rgb(218,218,218)"/><stop offset="0.7629" stop-color="rgb(224,224,224)"/><stop offset="0.7672" stop-color="rgb(225,225,225)"/><stop offset="0.7716" stop-color="rgb(221,221,221)"/><stop offset="0.7759" stop-color="rgb(210,210,210)"/><stop offset="0.7802" stop-color="rgb(196,196,196)"/><stop offset="0.7845" stop-color="rgb(183,183,183)"/><stop offset="0.7888" stop-color="rgb(180,180,180)"/><stop offset="0.7931" stop-color="rgb(190,190,190)"/><stop offset="0.7974" stop-color="rgb(205,205,205)"/><stop offset="0.8017" stop-color="rgb(219,219,219)"/><stop offset="0.8060" stop-color="rgb(227,227,227)"/><stop offset="0.8103" stop-color="rgb(230,230,230)"/><stop offset="0.8147" stop-color="rgb(232,232,232)"/><stop offset="0.8190" stop-color="rgb(232,232,232)"/><stop offset="0.8233" stop-color="rgb(231,231,231)"/><stop offset="0.8276" stop-color="rgb(229,229,229)"/><stop offset="0.8319" stop-color="rgb(224,224,224)"/><stop offset="0.8362" stop-color="rgb(218,218,218)"/><stop offset="0.8405" stop-color="rgb(213,213,213)"/><stop offset="0.8448" stop-color="rgb(210,210,210)"/><stop offset="0.8491" stop-color="rgb(209,209,209)"/><stop offset="0.8534" stop-color="rgb(207,207,207)"/><stop offset="0.8578" stop-color="rgb(208,208,208)"/><stop offset="0.8621" stop-color="rgb(213,213,213)"/><stop offset="0.8664" stop-color="rgb(217,217,217)"/><stop offset="0.8707" stop-color="rgb(214,214,214)"/><stop offset="0.8750" stop-color="rgb(198,198,198)"/><stop offset="0.8793" stop-color="rgb(171,171,171)"/><stop offset="0.8836" stop-color="rgb(145,145,145)"/><stop offset="0.8879" stop-color="rgb(132,132,132)"/><stop offset="0.8922" stop-color="rgb(138,138,138)"/><stop offset="0.8966" stop-color="rgb(154,154,154)"/><stop offset="0.9009" stop-color="rgb(171,171,171)"/><stop offset="0.9052" stop-color="rgb(191,191,191)"/><stop offset="0.9095" stop-color="rgb(212,212,212)"/><stop offset="0.9138" stop-color="rgb(227,227,227)"/><stop offset="0.9181" stop-color="rgb(229,229,229)"/><stop offset="0.9224" stop-color="rgb(218,218,218)"/><stop offset="0.9267" stop-color="rgb(200,200,200)"/><stop offset="0.9310" stop-color="rgb(187,187,187)"/><stop offset="0.9353" stop-color="rgb(190,190,190)"/><stop offset="0.9397" stop-color="rgb(207,207,207)"/><stop offset="0.9440" stop-color="rgb(226,226,226)"/><stop offset="0.9483" stop-color="rgb(238,238,238)"/><stop offset="0.9526" stop-color="rgb(244,244,244)"/><stop offset="0.9569" stop-color="rgb(246,246,246)"/><stop offset="0.9612" stop-color="rgb(246,246,246)"/><stop offset="0.9655" stop-color="rgb(246,246,246)"/><stop offset="0.9698" stop-color="rgb(246,246,246)"/><stop offset="0.9741" stop-color="rgb(246,246,246)"/><stop offset="0.9784" stop-color="rgb(246,246,246)"/><stop offset="0.9828" stop-color="rgb(246,246,246)"/><stop offset="0.9871" stop-color="rgb(246,246,246)"/><stop offset="0.9914" stop-color="rgb(246,246,246)"/><stop offset="0.9957" stop-color="rgb(246,246,246)"/><stop offset="1.0000" stop-color="rgb(246,246,246)"/></linearGradient><linearGradient id="eg3" x1="0" y1="0" x2="1" y2="0"><stop offset="0" stop-color="#000" stop-opacity="0.32"/><stop offset="0.15" stop-color="#000" stop-opacity="0.14"/><stop offset="0.3" stop-color="#000" stop-opacity="0"/><stop offset="0.7" stop-color="#000" stop-opacity="0"/><stop offset="0.87" stop-color="#000" stop-opacity="0.08"/><stop offset="1" stop-color="#000" stop-opacity="0.2"/></linearGradient><linearGradient id="lg4" gradientUnits="userSpaceOnUse" x1="0" y1="48.0" x2="0" y2="280.0"><stop offset="0.0000" stop-color="rgb(246,246,246)"/><stop offset="0.0043" stop-color="rgb(246,246,246)"/><stop offset="0.0086" stop-color="rgb(246,246,246)"/><stop offset="0.0129" stop-color="rgb(246,246,246)"/><stop offset="0.0172" stop-color="rgb(246,246,246)"/><stop offset="0.0216" stop-color="rgb(246,246,246)"/><stop offset="0.0259" stop-color="rgb(246,246,246)"/><stop offset="0.0302" stop-color="rgb(246,246,246)"/><stop offset="0.0345" stop-color="rgb(237,237,237)"/><stop offset="0.0388" stop-color="rgb(227,227,227)"/><stop offset="0.0431" stop-color="rgb(218,218,218)"/><stop offset="0.0474" stop-color="rgb(209,209,209)"/><stop offset="0.0517" stop-color="rgb(200,200,200)"/><stop offset="0.0560" stop-color="rgb(190,190,190)"/><stop offset="0.0603" stop-color="rgb(176,176,176)"/><stop offset="0.0647" stop-color="rgb(160,160,160)"/><stop offset="0.0690" stop-color="rgb(142,142,142)"/><stop offset="0.0733" stop-color="rgb(129,129,129)"/><stop offset="0.0776" stop-color="rgb(119,119,119)"/><stop offset="0.0819" stop-color="rgb(110,110,110)"/><stop offset="0.0862" stop-color="rgb(104,104,104)"/><stop offset="0.0905" stop-color="rgb(99,99,99)"/><stop offset="0.0948" stop-color="rgb(91,91,91)"/><stop offset="0.0991" stop-color="rgb(90,90,90)"/><stop offset="0.1034" stop-color="rgb(100,100,100)"/><stop offset="0.1078" stop-color="rgb(109,109,109)"/><stop offset="0.1121" stop-color="rgb(102,102,102)"/><stop offset="0.1164" stop-color="rgb(88,88,88)"/><stop offset="0.1207" stop-color="rgb(88,88,88)"/><stop offset="0.1250" stop-color="rgb(103,103,103)"/><stop offset="0.1293" stop-color="rgb(114,114,114)"/><stop offset="0.1336" stop-color="rgb(105,105,105)"/><stop offset="0.1379" stop-color="rgb(87,87,87)"/><stop offset="0.1422" stop-color="rgb(83,83,83)"/><stop offset="0.1466" stop-color="rgb(98,98,98)"/><stop offset="0.1509" stop-color="rgb(109,109,109)"/><stop offset="0.1552" stop-color="rgb(102,102,102)"/><stop offset="0.1595" stop-color="rgb(85,85,85)"/><stop offset="0.1638" stop-color="rgb(80,80,80)"/><stop offset="0.1681" stop-color="rgb(94,94,94)"/><stop offset="0.1724" stop-color="rgb(112,112,112)"/><stop offset="0.1767" stop-color="rgb(116,116,116)"/><stop offset="0.1810" stop-color="rgb(101,101,101)"/><stop offset="0.1853" stop-color="rgb(83,83,83)"/><stop offset="0.1897" stop-color="rgb(82,82,82)"/><stop offset="0.1940" stop-color="rgb(100,100,100)"/><stop offset="0.1983" stop-color="rgb(123,123,123)"/><stop offset="0.2026" stop-color="rgb(136,136,136)"/><stop offset="0.2069" stop-color="rgb(136,136,136)"/><stop offset="0.2112" stop-color="rgb(123,123,123)"/><stop offset="0.2155" stop-color="rgb(102,102,102)"/><stop offset="0.2198" stop-color="rgb(84,84,84)"/><stop offset="0.2241" stop-color="rgb(81,81,81)"/><stop offset="0.2284" stop-color="rgb(97,97,97)"/><stop offset="0.2328" stop-color="rgb(117,117,117)"/><stop offset="0.2371" stop-color="rgb(128,128,128)"/><stop offset="0.2414" stop-color="rgb(128,128,128)"/><stop offset="0.2457" stop-color="rgb(126,126,126)"/><stop offset="0.2500" stop-color="rgb(121,121,121)"/><stop offset="0.2543" stop-color="rgb(109,109,109)"/><stop offset="0.2586" stop-color="rgb(92,92,92)"/><stop offset="0.2629" stop-color="rgb(85,85,85)"/><stop offset="0.2672" stop-color="rgb(97,97,97)"/><stop offset="0.2716" stop-color="rgb(120,120,120)"/><stop offset="0.2759" stop-color="rgb(140,140,140)"/><stop offset="0.2802" stop-color="rgb(151,151,151)"/><stop offset="0.2845" stop-color="rgb(151,151,151)"/><stop offset="0.2888" stop-color="rgb(144,144,144)"/><stop offset="0.2931" stop-color="rgb(134,134,134)"/><stop offset="0.2974" stop-color="rgb(129,129,129)"/><stop offset="0.3017" stop-color="rgb(133,133,133)"/><stop offset="0.3060" stop-color="rgb(137,137,137)"/><stop offset="0.3103" stop-color="rgb(130,130,130)"/><stop offset="0.3147" stop-color="rgb(111,111,111)"/><stop offset="0.3190" stop-color="rgb(95,95,95)"/><stop offset="0.3233" stop-color="rgb(95,95,95)"/><stop offset="0.3276" stop-color="rgb(113,113,113)"/><stop offset="0.3319" stop-color="rgb(130,130,130)"/><stop offset="0.3362" stop-color="rgb(136,136,136)"/><stop offset="0.3405" stop-color="rgb(132,132,132)"/><stop offset="0.3448" stop-color="rgb(130,130,130)"/><stop offset="0.3491" stop-color="rgb(135,135,135)"/><stop offset="0.3534" stop-color="rgb(142,142,142)"/><stop offset="0.3578" stop-color="rgb(147,147,147)"/><stop offset="0.3621" stop-color="rgb(154,154,154)"/><stop offset="0.3664" stop-color="rgb(163,163,163)"/><stop offset="0.3707" stop-color="rgb(169,169,169)"/><stop offset="0.3750" stop-color="rgb(171,171,171)"/><stop offset="0.3793" stop-color="rgb(165,165,165)"/><stop offset="0.3836" stop-color="rgb(150,150,150)"/><stop offset="0.3879" stop-color="rgb(127,127,127)"/><stop offset="0.3922" stop-color="rgb(107,107,107)"/><stop offset="0.3966" stop-color="rgb(101,101,101)"/><stop offset="0.4009" stop-color="rgb(112,112,112)"/><stop offset="0.4052" stop-color="rgb(130,130,130)"/><stop offset="0.4095" stop-color="rgb(140,140,140)"/><stop offset="0.4138" stop-color="rgb(140,140,140)"/><stop offset="0.4181" stop-color="rgb(140,140,140)"/><stop offset="0.4224" stop-color="rgb(151,151,151)"/><stop offset="0.4267" stop-color="rgb(167,167,167)"/><stop offset="0.4310" stop-color="rgb(179,179,179)"/><stop offset="0.4353" stop-color="rgb(185,185,185)"/><stop offset="0.4397" stop-color="rgb(185,185,185)"/><stop offset="0.4440" stop-color="rgb(180,180,180)"/><stop offset="0.4483" stop-color="rgb(173,173,173)"/><stop offset="0.4526" stop-color="rgb(167,167,167)"/><stop offset="0.4569" stop-color="rgb(167,167,167)"/><stop offset="0.4612" stop-color="rgb(171,171,171)"/><stop offset="0.4655" stop-color="rgb(173,173,173)"/><stop offset="0.4698" stop-color="rgb(164,164,164)"/><stop offset="0.4741" stop-color="rgb(144,144,144)"/><stop offset="0.4784" stop-color="rgb(122,122,122)"/><stop offset="0.4828" stop-color="rgb(113,113,113)"/><stop offset="0.4871" stop-color="rgb(124,124,124)"/><stop offset="0.4914" stop-color="rgb(148,148,148)"/><stop offset="0.4957" stop-color="rgb(173,173,173)"/><stop offset="0.5000" stop-color="rgb(188,188,188)"/><stop offset="0.5043" stop-color="rgb(193,193,193)"/><stop offset="0.5086" stop-color="rgb(188,188,188)"/><stop offset="0.5129" stop-color="rgb(177,177,177)"/><stop offset="0.5172" stop-color="rgb(162,162,162)"/><stop offset="0.5216" stop-color="rgb(155,155,155)"/><stop offset="0.5259" stop-color="rgb(161,161,161)"/><stop offset="0.5302" stop-color="rgb(175,175,175)"/><stop offset="0.5345" stop-color="rgb(190,190,190)"/><stop offset="0.5388" stop-color="rgb(198,198,198)"/><stop offset="0.5431" stop-color="rgb(201,201,201)"/><stop offset="0.5474" stop-color="rgb(201,201,201)"/><stop offset="0.5517" stop-color="rgb(196,196,196)"/><stop offset="0.5560" stop-color="rgb(188,188,188)"/><stop offset="0.5603" stop-color="rgb(179,179,179)"/><stop offset="0.5647" stop-color="rgb(173,173,173)"/><stop offset="0.5690" stop-color="rgb(174,174,174)"/><stop offset="0.5733" stop-color="rgb(179,179,179)"/><stop offset="0.5776" stop-color="rgb(181,181,181)"/><stop offset="0.5819" stop-color="rgb(172,172,172)"/><stop offset="0.5862" stop-color="rgb(150,150,150)"/><stop offset="0.5905" stop-color="rgb(128,128,128)"/><stop offset="0.5948" stop-color="rgb(121,121,121)"/><stop offset="0.5991" stop-color="rgb(135,135,135)"/><stop offset="0.6034" stop-color="rgb(159,159,159)"/><stop offset="0.6078" stop-color="rgb(177,177,177)"/><stop offset="0.6121" stop-color="rgb(184,184,184)"/><stop offset="0.6164" stop-color="rgb(184,184,184)"/><stop offset="0.6207" stop-color="rgb(186,186,186)"/><stop offset="0.6250" stop-color="rgb(191,191,191)"/><stop offset="0.6293" stop-color="rgb(190,190,190)"/><stop offset="0.6336" stop-color="rgb(181,181,181)"/><stop offset="0.6379" stop-color="rgb(170,170,170)"/><stop offset="0.6422" stop-color="rgb(169,169,169)"/><stop offset="0.6466" stop-color="rgb(179,179,179)"/><stop offset="0.6509" stop-color="rgb(195,195,195)"/><stop offset="0.6552" stop-color="rgb(207,207,207)"/><stop offset="0.6595" stop-color="rgb(213,213,213)"/><stop offset="0.6638" stop-color="rgb(215,215,215)"/><stop offset="0.6681" stop-color="rgb(213,213,213)"/><stop offset="0.6724" stop-color="rgb(208,208,208)"/><stop offset="0.6767" stop-color="rgb(201,201,201)"/><stop offset="0.6810" stop-color="rgb(193,193,193)"/><stop offset="0.6853" stop-color="rgb(189,189,189)"/><stop offset="0.6897" stop-color="rgb(193,193,193)"/><stop offset="0.6940" stop-color="rgb(202,202,202)"/><stop offset="0.6983" stop-color="rgb(209,209,209)"/><stop offset="0.7026" stop-color="rgb(211,211,211)"/><stop offset="0.7069" stop-color="rgb(205,205,205)"/><stop offset="0.7112" stop-color="rgb(188,188,188)"/><stop offset="0.7155" stop-color="rgb(164,164,164)"/><stop offset="0.7198" stop-color="rgb(143,143,143)"/><stop offset="0.7241" stop-color="rgb(135,135,135)"/><stop offset="0.7284" stop-color="rgb(146,146,146)"/><stop offset="0.7328" stop-color="rgb(168,168,168)"/><stop offset="0.7371" stop-color="rgb(188,188,188)"/><stop offset="0.7414" stop-color="rgb(199,199,199)"/><stop offset="0.7457" stop-color="rgb(201,201,201)"/><stop offset="0.7500" stop-color="rgb(203,203,203)"/><stop offset="0.7543" stop-color="rgb(209,209,209)"/><stop offset="0.7586" stop-color="rgb(217,217,217)"/><stop offset="0.7629" stop-color="rgb(222,222,222)"/><stop offset="0.7672" stop-color="rgb(222,222,222)"/><stop offset="0.7716" stop-color="rgb(217,217,217)"/><stop offset="0.7759" stop-color="rgb(206,206,206)"/><stop offset="0.7802" stop-color="rgb(191,191,191)"/><stop offset="0.7845" stop-color="rgb(180,180,180)"/><stop offset="0.7888" stop-color="rgb(179,179,179)"/><stop offset="0.7931" stop-color="rgb(190,190,190)"/><stop offset="0.7974" stop-color="rgb(206,206,206)"/><stop offset="0.8017" stop-color="rgb(219,219,219)"/><stop offset="0.8060" stop-color="rgb(226,226,226)"/><stop offset="0.8103" stop-color="rgb(229,229,229)"/><stop offset="0.8147" stop-color="rgb(230,230,230)"/><stop offset="0.8190" stop-color="rgb(230,230,230)"/><stop offset="0.8233" stop-color="rgb(229,229,229)"/><stop offset="0.8276" stop-color="rgb(226,226,226)"/><stop offset="0.8319" stop-color="rgb(222,222,222)"/><stop offset="0.8362" stop-color="rgb(216,216,216)"/><stop offset="0.8405" stop-color="rgb(211,211,211)"/><stop offset="0.8448" stop-color="rgb(209,209,209)"/><stop offset="0.8491" stop-color="rgb(207,207,207)"/><stop offset="0.8534" stop-color="rgb(206,206,206)"/><stop offset="0.8578" stop-color="rgb(207,207,207)"/><stop offset="0.8621" stop-color="rgb(213,213,213)"/><stop offset="0.8664" stop-color="rgb(217,217,217)"/><stop offset="0.8707" stop-color="rgb(211,211,211)"/><stop offset="0.8750" stop-color="rgb(193,193,193)"/><stop offset="0.8793" stop-color="rgb(165,165,165)"/><stop offset="0.8836" stop-color="rgb(140,140,140)"/><stop offset="0.8879" stop-color="rgb(131,131,131)"/><stop offset="0.8922" stop-color="rgb(140,140,140)"/><stop offset="0.8966" stop-color="rgb(156,156,156)"/><stop offset="0.9009" stop-color="rgb(174,174,174)"/><stop offset="0.9052" stop-color="rgb(194,194,194)"/><stop offset="0.9095" stop-color="rgb(215,215,215)"/><stop offset="0.9138" stop-color="rgb(228,228,228)"/><stop offset="0.9181" stop-color="rgb(227,227,227)"/><stop offset="0.9224" stop-color="rgb(214,214,214)"/><stop offset="0.9267" stop-color="rgb(196,196,196)"/><stop offset="0.9310" stop-color="rgb(186,186,186)"/><stop offset="0.9353" stop-color="rgb(192,192,192)"/><stop offset="0.9397" stop-color="rgb(211,211,211)"/><stop offset="0.9440" stop-color="rgb(229,229,229)"/><stop offset="0.9483" stop-color="rgb(240,240,240)"/><stop offset="0.9526" stop-color="rgb(244,244,244)"/><stop offset="0.9569" stop-color="rgb(246,246,246)"/><stop offset="0.9612" stop-color="rgb(246,246,246)"/><stop offset="0.9655" stop-color="rgb(246,246,246)"/><stop offset="0.9698" stop-color="rgb(246,246,246)"/><stop offset="0.9741" stop-color="rgb(246,246,246)"/><stop offset="0.9784" stop-color="rgb(246,246,246)"/><stop offset="0.9828" stop-color="rgb(246,246,246)"/><stop offset="0.9871" stop-color="rgb(246,246,246)"/><stop offset="0.9914" stop-color="rgb(246,246,246)"/><stop offset="0.9957" stop-color="rgb(246,246,246)"/><stop offset="1.0000" stop-color="rgb(246,246,246)"/></linearGradient><linearGradient id="eg4" x1="0" y1="0" x2="1" y2="0"><stop offset="0" stop-color="#000" stop-opacity="0.32"/><stop offset="0.15" stop-color="#000" stop-opacity="0.14"/><stop offset="0.3" stop-color="#000" stop-opacity="0"/><stop offset="0.7" stop-color="#000" stop-opacity="0"/><stop offset="0.87" stop-color="#000" stop-opacity="0.08"/><stop offset="1" stop-color="#000" stop-opacity="0.2"/></linearGradient><linearGradient id="lg5" gradientUnits="userSpaceOnUse" x1="0" y1="48.0" x2="0" y2="280.0"><stop offset="0.0000" stop-color="rgb(246,246,246)"/><stop offset="0.0043" stop-color="rgb(246,246,246)"/><stop offset="0.0086" stop-color="rgb(246,246,246)"/><stop offset="0.0129" stop-color="rgb(246,246,246)"/><stop offset="0.0172" stop-color="rgb(246,246,246)"/><stop offset="0.0216" stop-color="rgb(246,246,246)"/><stop offset="0.0259" stop-color="rgb(246,246,246)"/><stop offset="0.0302" stop-color="rgb(212,212,212)"/><stop offset="0.0345" stop-color="rgb(177,177,177)"/><stop offset="0.0388" stop-color="rgb(160,160,160)"/><stop offset="0.0431" stop-color="rgb(143,143,143)"/><stop offset="0.0474" stop-color="rgb(126,126,126)"/><stop offset="0.0517" stop-color="rgb(109,109,109)"/><stop offset="0.0560" stop-color="rgb(101,101,101)"/><stop offset="0.0603" stop-color="rgb(92,92,92)"/><stop offset="0.0647" stop-color="rgb(80,80,80)"/><stop offset="0.0690" stop-color="rgb(67,67,67)"/><stop offset="0.0733" stop-color="rgb(62,62,62)"/><stop offset="0.0776" stop-color="rgb(60,60,60)"/><stop offset="0.0819" stop-color="rgb(57,57,57)"/><stop offset="0.0862" stop-color="rgb(55,55,55)"/><stop offset="0.0905" stop-color="rgb(55,55,55)"/><stop offset="0.0948" stop-color="rgb(52,52,52)"/><stop offset="0.0991" stop-color="rgb(51,51,51)"/><stop offset="0.1034" stop-color="rgb(56,56,56)"/><stop offset="0.1078" stop-color="rgb(62,62,62)"/><stop offset="0.1121" stop-color="rgb(58,58,58)"/><stop offset="0.1164" stop-color="rgb(47,47,47)"/><stop offset="0.1207" stop-color="rgb(44,44,44)"/><stop offset="0.1250" stop-color="rgb(55,55,55)"/><stop offset="0.1293" stop-color="rgb(65,65,65)"/><stop offset="0.1336" stop-color="rgb(60,60,60)"/><stop offset="0.1379" stop-color="rgb(45,45,45)"/><stop offset="0.1422" stop-color="rgb(39,39,39)"/><stop offset="0.1466" stop-color="rgb(50,50,50)"/><stop offset="0.1509" stop-color="rgb(63,63,63)"/><stop offset="0.1552" stop-color="rgb(58,58,58)"/><stop offset="0.1595" stop-color="rgb(42,42,42)"/><stop offset="0.1638" stop-color="rgb(33,33,33)"/><stop offset="0.1681" stop-color="rgb(45,45,45)"/><stop offset="0.1724" stop-color="rgb(65,65,65)"/><stop offset="0.1767" stop-color="rgb(74,74,74)"/><stop offset="0.1810" stop-color="rgb(62,62,62)"/><stop offset="0.1853" stop-color="rgb(41,41,41)"/><stop offset="0.1897" stop-color="rgb(34,34,34)"/><stop offset="0.1940" stop-color="rgb(51,51,51)"/><stop offset="0.1983" stop-color="rgb(79,79,79)"/><stop offset="0.2026" stop-color="rgb(99,99,99)"/><stop offset="0.2069" stop-color="rgb(105,105,105)"/><stop offset="0.2112" stop-color="rgb(97,97,97)"/><stop offset="0.2155" stop-color="rgb(77,77,77)"/><stop offset="0.2198" stop-color="rgb(55,55,55)"/><stop offset="0.2241" stop-color="rgb(47,47,47)"/><stop offset="0.2284" stop-color="rgb(59,59,59)"/><stop offset="0.2328" stop-color="rgb(82,82,82)"/><stop offset="0.2371" stop-color="rgb(99,99,99)"/><stop offset="0.2414" stop-color="rgb(103,103,103)"/><stop offset="0.2457" stop-color="rgb(102,102,102)"/><stop offset="0.2500" stop-color="rgb(99,99,99)"/><stop offset="0.2543" stop-color="rgb(90,90,90)"/><stop offset="0.2586" stop-color="rgb(73,73,73)"/><stop offset="0.2629" stop-color="rgb(60,60,60)"/><stop offset="0.2672" stop-color="rgb(65,65,65)"/><stop offset="0.2716" stop-color="rgb(87,87,87)"/><stop offset="0.2759" stop-color="rgb(112,112,112)"/><stop offset="0.2802" stop-color="rgb(128,128,128)"/><stop offset="0.2845" stop-color="rgb(134,134,134)"/><stop offset="0.2888" stop-color="rgb(130,130,130)"/><stop offset="0.2931" stop-color="rgb(120,120,120)"/><stop offset="0.2974" stop-color="rgb(112,112,112)"/><stop offset="0.3017" stop-color="rgb(112,112,112)"/><stop offset="0.3060" stop-color="rgb(118,118,118)"/><stop offset="0.3103" stop-color="rgb(118,118,118)"/><stop offset="0.3147" stop-color="rgb(104,104,104)"/><stop offset="0.3190" stop-color="rgb(84,84,84)"/><stop offset="0.3233" stop-color="rgb(75,75,75)"/><stop offset="0.3276" stop-color="rgb(86,86,86)"/><stop offset="0.3319" stop-color="rgb(107,107,107)"/><stop offset="0.3362" stop-color="rgb(120,120,120)"/><stop offset="0.3405" stop-color="rgb(120,120,120)"/><stop offset="0.3448" stop-color="rgb(116,116,116)"/><stop offset="0.3491" stop-color="rgb(118,118,118)"/><stop offset="0.3534" stop-color="rgb(126,126,126)"/><stop offset="0.3578" stop-color="rgb(132,132,132)"/><stop offset="0.3621" stop-color="rgb(138,138,138)"/><stop offset="0.3664" stop-color="rgb(146,146,146)"/><stop offset="0.3707" stop-color="rgb(155,155,155)"/><stop offset="0.3750" stop-color="rgb(160,160,160)"/><stop offset="0.3793" stop-color="rgb(159,159,159)"/><stop offset="0.3836" stop-color="rgb(150,150,150)"/><stop offset="0.3879" stop-color="rgb(132,132,132)"/><stop offset="0.3922" stop-color="rgb(109,109,109)"/><stop offset="0.3966" stop-color="rgb(93,93,93)"/><stop offset="0.4009" stop-color="rgb(94,94,94)"/><stop offset="0.4052" stop-color="rgb(110,110,110)"/><stop offset="0.4095" stop-color="rgb(127,127,127)"/><stop offset="0.4138" stop-color="rgb(133,133,133)"/><stop offset="0.4181" stop-color="rgb(131,131,131)"/><stop offset="0.4224" stop-color="rgb(135,135,135)"/><stop offset="0.4267" stop-color="rgb(149,149,149)"/><stop offset="0.4310" stop-color="rgb(164,164,164)"/><stop offset="0.4353" stop-color="rgb(175,175,175)"/><stop offset="0.4397" stop-color="rgb(179,179,179)"/><stop offset="0.4440" stop-color="rgb(178,178,178)"/><stop offset="0.4483" stop-color="rgb(173,173,173)"/><stop offset="0.4526" stop-color="rgb(166,166,166)"/><stop offset="0.4569" stop-color="rgb(161,161,161)"/><stop offset="0.4612" stop-color="rgb(163,163,163)"/><stop offset="0.4655" stop-color="rgb(168,168,168)"/><stop offset="0.4698" stop-color="rgb(168,168,168)"/><stop offset="0.4741" stop-color="rgb(156,156,156)"/><stop offset="0.4784" stop-color="rgb(135,135,135)"/><stop offset="0.4828" stop-color="rgb(115,115,115)"/><stop offset="0.4871" stop-color="rgb(111,111,111)"/><stop offset="0.4914" stop-color="rgb(126,126,126)"/><stop offset="0.4957" stop-color="rgb(152,152,152)"/><stop offset="0.5000" stop-color="rgb(174,174,174)"/><stop offset="0.5043" stop-color="rgb(187,187,187)"/><stop offset="0.5086" stop-color="rgb(190,190,190)"/><stop offset="0.5129" stop-color="rgb(184,184,184)"/><stop offset="0.5172" stop-color="rgb(172,172,172)"/><stop offset="0.5216" stop-color="rgb(158,158,158)"/><stop offset="0.5259" stop-color="rgb(153,153,153)"/><stop offset="0.5302" stop-color="rgb(160,160,160)"/><stop offset="0.5345" stop-color="rgb(175,175,175)"/><stop offset="0.5388" stop-color="rgb(189,189,189)"/><stop offset="0.5431" stop-color="rgb(197,197,197)"/><stop offset="0.5474" stop-color="rgb(199,199,199)"/><stop offset="0.5517" stop-color="rgb(198,198,198)"/><stop offset="0.5560" stop-color="rgb(194,194,194)"/><stop offset="0.5603" stop-color="rgb(185,185,185)"/><stop offset="0.5647" stop-color="rgb(176,176,176)"/><stop offset="0.5690" stop-color="rgb(170,170,170)"/><stop offset="0.5733" stop-color="rgb(172,172,172)"/><stop offset="0.5776" stop-color="rgb(178,178,178)"/><stop offset="0.5819" stop-color="rgb(179,179,179)"/><stop offset="0.5862" stop-color="rgb(168,168,168)"/><stop offset="0.5905" stop-color="rgb(147,147,147)"/><stop offset="0.5948" stop-color="rgb(125,125,125)"/><stop offset="0.5991" stop-color="rgb(119,119,119)"/><stop offset="0.6034" stop-color="rgb(133,133,133)"/><stop offset="0.6078" stop-color="rgb(157,157,157)"/><stop offset="0.6121" stop-color="rgb(176,176,176)"/><stop offset="0.6164" stop-color="rgb(182,182,182)"/><stop offset="0.6207" stop-color="rgb(182,182,182)"/><stop offset="0.6250" stop-color="rgb(184,184,184)"/><stop offset="0.6293" stop-color="rgb(189,189,189)"/><stop offset="0.6336" stop-color="rgb(189,189,189)"/><stop offset="0.6379" stop-color="rgb(180,180,180)"/><stop offset="0.6422" stop-color="rgb(169,169,169)"/><stop offset="0.6466" stop-color="rgb(167,167,167)"/><stop offset="0.6509" stop-color="rgb(177,177,177)"/><stop offset="0.6552" stop-color="rgb(192,192,192)"/><stop offset="0.6595" stop-color="rgb(205,205,205)"/><stop offset="0.6638" stop-color="rgb(211,211,211)"/><stop offset="0.6681" stop-color="rgb(213,213,213)"/><stop offset="0.6724" stop-color="rgb(212,212,212)"/><stop offset="0.6767" stop-color="rgb(207,207,207)"/><stop offset="0.6810" stop-color="rgb(200,200,200)"/><stop offset="0.6853" stop-color="rgb(192,192,192)"/><stop offset="0.6897" stop-color="rgb(188,188,188)"/><stop offset="0.6940" stop-color="rgb(191,191,191)"/><stop offset="0.6983" stop-color="rgb(199,199,199)"/><stop offset="0.7026" stop-color="rgb(207,207,207)"/><stop offset="0.7069" stop-color="rgb(210,210,210)"/><stop offset="0.7112" stop-color="rgb(205,205,205)"/><stop offset="0.7155" stop-color="rgb(190,190,190)"/><stop offset="0.7198" stop-color="rgb(167,167,167)"/><stop offset="0.7241" stop-color="rgb(145,145,145)"/><stop offset="0.7284" stop-color="rgb(134,134,134)"/><stop offset="0.7328" stop-color="rgb(141,141,141)"/><stop offset="0.7371" stop-color="rgb(162,162,162)"/><stop offset="0.7414" stop-color="rgb(183,183,183)"/><stop offset="0.7457" stop-color="rgb(196,196,196)"/><stop offset="0.7500" stop-color="rgb(200,200,200)"/><stop offset="0.7543" stop-color="rgb(201,201,201)"/><stop offset="0.7586" stop-color="rgb(206,206,206)"/><stop offset="0.7629" stop-color="rgb(214,214,214)"/><stop offset="0.7672" stop-color="rgb(220,220,220)"/><stop offset="0.7716" stop-color="rgb(222,222,222)"/><stop offset="0.7759" stop-color="rgb(218,218,218)"/><stop offset="0.7802" stop-color="rgb(209,209,209)"/><stop offset="0.7845" stop-color="rgb(195,195,195)"/><stop offset="0.7888" stop-color="rgb(181,181,181)"/><stop offset="0.7931" stop-color="rgb(177,177,177)"/><stop offset="0.7974" stop-color="rgb(185,185,185)"/><stop offset="0.8017" stop-color="rgb(200,200,200)"/><stop offset="0.8060" stop-color="rgb(214,214,214)"/><stop offset="0.8103" stop-color="rgb(223,223,223)"/><stop offset="0.8147" stop-color="rgb(227,227,227)"/><stop offset="0.8190" stop-color="rgb(229,229,229)"/><stop offset="0.8233" stop-color="rgb(229,229,229)"/><stop offset="0.8276" stop-color="rgb(229,229,229)"/><stop offset="0.8319" stop-color="rgb(227,227,227)"/><stop offset="0.8362" stop-color="rgb(223,223,223)"/><stop offset="0.8405" stop-color="rgb(217,217,217)"/><stop offset="0.8448" stop-color="rgb(212,212,212)"/><stop offset="0.8491" stop-color="rgb(209,209,209)"/><stop offset="0.8534" stop-color="rgb(207,207,207)"/><stop offset="0.8578" stop-color="rgb(206,206,206)"/><stop offset="0.8621" stop-color="rgb(206,206,206)"/><stop offset="0.8664" stop-color="rgb(210,210,210)"/><stop offset="0.8707" stop-color="rgb(215,215,215)"/><stop offset="0.8750" stop-color="rgb(214,214,214)"/><stop offset="0.8793" stop-color="rgb(202,202,202)"/><stop offset="0.8836" stop-color="rgb(177,177,177)"/><stop offset="0.8879" stop-color="rgb(150,150,150)"/><stop offset="0.8922" stop-color="rgb(132,132,132)"/><stop offset="0.8966" stop-color="rgb(134,134,134)"/><stop offset="0.9009" stop-color="rgb(148,148,148)"/><stop offset="0.9052" stop-color="rgb(165,165,165)"/><stop offset="0.9095" stop-color="rgb(183,183,183)"/><stop offset="0.9138" stop-color="rgb(205,205,205)"/><stop offset="0.9181" stop-color="rgb(223,223,223)"/><stop offset="0.9224" stop-color="rgb(229,229,229)"/><stop offset="0.9267" stop-color="rgb(222,222,222)"/><stop offset="0.9310" stop-color="rgb(205,205,205)"/><stop offset="0.9353" stop-color="rgb(190,190,190)"/><stop offset="0.9397" stop-color="rgb(187,187,187)"/><stop offset="0.9440" stop-color="rgb(200,200,200)"/><stop offset="0.9483" stop-color="rgb(219,219,219)"/><stop offset="0.9526" stop-color="rgb(235,235,235)"/><stop offset="0.9569" stop-color="rgb(242,242,242)"/><stop offset="0.9612" stop-color="rgb(245,245,245)"/><stop offset="0.9655" stop-color="rgb(246,246,246)"/><stop offset="0.9698" stop-color="rgb(246,246,246)"/><stop offset="0.9741" stop-color="rgb(246,246,246)"/><stop offset="0.9784" stop-color="rgb(246,246,246)"/><stop offset="0.9828" stop-color="rgb(246,246,246)"/><stop offset="0.9871" stop-color="rgb(246,246,246)"/><stop offset="0.9914" stop-color="rgb(246,246,246)"/><stop offset="0.9957" stop-color="rgb(246,246,246)"/><stop offset="1.0000" stop-color="rgb(246,246,246)"/></linearGradient><linearGradient id="eg5" x1="0" y1="0" x2="1" y2="0"><stop offset="0" stop-color="#000" stop-opacity="0.32"/><stop offset="0.15" stop-color="#000" stop-opacity="0.14"/><stop offset="0.3" stop-color="#000" stop-opacity="0"/><stop offset="0.7" stop-color="#000" stop-opacity="0"/><stop offset="0.87" stop-color="#000" stop-opacity="0.08"/><stop offset="1" stop-color="#000" stop-opacity="0.2"/></linearGradient><linearGradient id="lg6" gradientUnits="userSpaceOnUse" x1="0" y1="48.0" x2="0" y2="280.0"><stop offset="0.0000" stop-color="rgb(246,246,246)"/><stop offset="0.0043" stop-color="rgb(246,246,246)"/><stop offset="0.0086" stop-color="rgb(246,246,246)"/><stop offset="0.0129" stop-color="rgb(246,246,246)"/><stop offset="0.0172" stop-color="rgb(246,246,246)"/><stop offset="0.0216" stop-color="rgb(246,246,246)"/><stop offset="0.0259" stop-color="rgb(246,246,246)"/><stop offset="0.0302" stop-color="rgb(246,246,246)"/><stop offset="0.0345" stop-color="rgb(236,236,236)"/><stop offset="0.0388" stop-color="rgb(226,226,226)"/><stop offset="0.0431" stop-color="rgb(216,216,216)"/><stop offset="0.0474" stop-color="rgb(207,207,207)"/><stop offset="0.0517" stop-color="rgb(197,197,197)"/><stop offset="0.0560" stop-color="rgb(187,187,187)"/><stop offset="0.0603" stop-color="rgb(173,173,173)"/><stop offset="0.0647" stop-color="rgb(156,156,156)"/><stop offset="0.0690" stop-color="rgb(138,138,138)"/><stop offset="0.0733" stop-color="rgb(124,124,124)"/><stop offset="0.0776" stop-color="rgb(113,113,113)"/><stop offset="0.0819" stop-color="rgb(104,104,104)"/><stop offset="0.0862" stop-color="rgb(97,97,97)"/><stop offset="0.0905" stop-color="rgb(93,93,93)"/><stop offset="0.0948" stop-color="rgb(85,85,85)"/><stop offset="0.0991" stop-color="rgb(81,81,81)"/><stop offset="0.1034" stop-color="rgb(89,89,89)"/><stop offset="0.1078" stop-color="rgb(100,100,100)"/><stop offset="0.1121" stop-color="rgb(97,97,97)"/><stop offset="0.1164" stop-color="rgb(83,83,83)"/><stop offset="0.1207" stop-color="rgb(78,78,78)"/><stop offset="0.1250" stop-color="rgb(91,91,91)"/><stop offset="0.1293" stop-color="rgb(105,105,105)"/><stop offset="0.1336" stop-color="rgb(102,102,102)"/><stop offset="0.1379" stop-color="rgb(84,84,84)"/><stop offset="0.1422" stop-color="rgb(74,74,74)"/><stop offset="0.1466" stop-color="rgb(84,84,84)"/><stop offset="0.1509" stop-color="rgb(100,100,100)"/><stop offset="0.1552" stop-color="rgb(99,99,99)"/><stop offset="0.1595" stop-color="rgb(83,83,83)"/><stop offset="0.1638" stop-color="rgb(72,72,72)"/><stop offset="0.1681" stop-color="rgb(79,79,79)"/><stop offset="0.1724" stop-color="rgb(98,98,98)"/><stop offset="0.1767" stop-color="rgb(109,109,109)"/><stop offset="0.1810" stop-color="rgb(101,101,101)"/><stop offset="0.1853" stop-color="rgb(82,82,82)"/><stop offset="0.1897" stop-color="rgb(72,72,72)"/><stop offset="0.1940" stop-color="rgb(83,83,83)"/><stop offset="0.1983" stop-color="rgb(105,105,105)"/><stop offset="0.2026" stop-color="rgb(124,124,124)"/><stop offset="0.2069" stop-color="rgb(130,130,130)"/><stop offset="0.2112" stop-color="rgb(123,123,123)"/><stop offset="0.2155" stop-color="rgb(106,106,106)"/><stop offset="0.2198" stop-color="rgb(85,85,85)"/><stop offset="0.2241" stop-color="rgb(73,73,73)"/><stop offset="0.2284" stop-color="rgb(80,80,80)"/><stop offset="0.2328" stop-color="rgb(99,99,99)"/><stop offset="0.2371" stop-color="rgb(116,116,116)"/><stop offset="0.2414" stop-color="rgb(122,122,122)"/><stop offset="0.2457" stop-color="rgb(120,120,120)"/><stop offset="0.2500" stop-color="rgb(118,118,118)"/><stop offset="0.2543" stop-color="rgb(111,111,111)"/><stop offset="0.2586" stop-color="rgb(95,95,95)"/><stop offset="0.2629" stop-color="rgb(81,81,81)"/><stop offset="0.2672" stop-color="rgb(80,80,80)"/><stop offset="0.2716" stop-color="rgb(98,98,98)"/><stop offset="0.2759" stop-color="rgb(121,121,121)"/><stop offset="0.2802" stop-color="rgb(138,138,138)"/><stop offset="0.2845" stop-color="rgb(146,146,146)"/><stop offset="0.2888" stop-color="rgb(144,144,144)"/><stop offset="0.2931" stop-color="rgb(135,135,135)"/><stop offset="0.2974" stop-color="rgb(125,125,125)"/><stop offset="0.3017" stop-color="rgb(123,123,123)"/><stop offset="0.3060" stop-color="rgb(128,128,128)"/><stop offset="0.3103" stop-color="rgb(130,130,130)"/><stop offset="0.3147" stop-color="rgb(120,120,120)"/><stop offset="0.3190" stop-color="rgb(101,101,101)"/><stop offset="0.3233" stop-color="rgb(87,87,87)"/><stop offset="0.3276" stop-color="rgb(92,92,92)"/><stop offset="0.3319" stop-color="rgb(110,110,110)"/><stop offset="0.3362" stop-color="rgb(127,127,127)"/><stop offset="0.3405" stop-color="rgb(130,130,130)"/><stop offset="0.3448" stop-color="rgb(125,125,125)"/><stop offset="0.3491" stop-color="rgb(125,125,125)"/><stop offset="0.3534" stop-color="rgb(131,131,131)"/><stop offset="0.3578" stop-color="rgb(137,137,137)"/><stop offset="0.3621" stop-color="rgb(142,142,142)"/><stop offset="0.3664" stop-color="rgb(149,149,149)"/><stop offset="0.3707" stop-color="rgb(158,158,158)"/><stop offset="0.3750" stop-color="rgb(165,165,165)"/><stop offset="0.3793" stop-color="rgb(166,166,166)"/><stop offset="0.3836" stop-color="rgb(160,160,160)"/><stop offset="0.3879" stop-color="rgb(145,145,145)"/><stop offset="0.3922" stop-color="rgb(122,122,122)"/><stop offset="0.3966" stop-color="rgb(102,102,102)"/><stop offset="0.4009" stop-color="rgb(96,96,96)"/><stop offset="0.4052" stop-color="rgb(107,107,107)"/><stop offset="0.4095" stop-color="rgb(125,125,125)"/><stop offset="0.4138" stop-color="rgb(136,136,136)"/><stop offset="0.4181" stop-color="rgb(135,135,135)"/><stop offset="0.4224" stop-color="rgb(135,135,135)"/><stop offset="0.4267" stop-color="rgb(145,145,145)"/><stop offset="0.4310" stop-color="rgb(161,161,161)"/><stop offset="0.4353" stop-color="rgb(174,174,174)"/><stop offset="0.4397" stop-color="rgb(180,180,180)"/><stop offset="0.4440" stop-color="rgb(181,181,181)"/><stop offset="0.4483" stop-color="rgb(177,177,177)"/><stop offset="0.4526" stop-color="rgb(170,170,170)"/><stop offset="0.4569" stop-color="rgb(164,164,164)"/><stop offset="0.4612" stop-color="rgb(162,162,162)"/><stop offset="0.4655" stop-color="rgb(166,166,166)"/><stop offset="0.4698" stop-color="rgb(169,169,169)"/><stop offset="0.4741" stop-color="rgb(163,163,163)"/><stop offset="0.4784" stop-color="rgb(145,145,145)"/><stop offset="0.4828" stop-color="rgb(123,123,123)"/><stop offset="0.4871" stop-color="rgb(110,110,110)"/><stop offset="0.4914" stop-color="rgb(116,116,116)"/><stop offset="0.4957" stop-color="rgb(138,138,138)"/><stop offset="0.5000" stop-color="rgb(163,163,163)"/><stop offset="0.5043" stop-color="rgb(181,181,181)"/><stop offset="0.5086" stop-color="rgb(189,189,189)"/><stop offset="0.5129" stop-color="rgb(187,187,187)"/><stop offset="0.5172" stop-color="rgb(178,178,178)"/><stop offset="0.5216" stop-color="rgb(164,164,164)"/><stop offset="0.5259" stop-color="rgb(153,153,153)"/><stop offset="0.5302" stop-color="rgb(154,154,154)"/><stop offset="0.5345" stop-color="rgb(166,166,166)"/><stop offset="0.5388" stop-color="rgb(181,181,181)"/><stop offset="0.5431" stop-color="rgb(192,192,192)"/><stop offset="0.5474" stop-color="rgb(197,197,197)"/><stop offset="0.5517" stop-color="rgb(198,198,198)"/><stop offset="0.5560" stop-color="rgb(196,196,196)"/><stop offset="0.5603" stop-color="rgb(189,189,189)"/><stop offset="0.5647" stop-color="rgb(180,180,180)"/><stop offset="0.5690" stop-color="rgb(172,172,172)"/><stop offset="0.5733" stop-color="rgb(169,169,169)"/><stop offset="0.5776" stop-color="rgb(173,173,173)"/><stop offset="0.5819" stop-color="rgb(178,178,178)"/><stop offset="0.5862" stop-color="rgb(176,176,176)"/><stop offset="0.5905" stop-color="rgb(160,160,160)"/><stop offset="0.5948" stop-color="rgb(137,137,137)"/><stop offset="0.5991" stop-color="rgb(120,120,120)"/><stop offset="0.6034" stop-color="rgb(122,122,122)"/><stop offset="0.6078" stop-color="rgb(141,141,141)"/><stop offset="0.6121" stop-color="rgb(165,165,165)"/><stop offset="0.6164" stop-color="rgb(178,178,178)"/><stop offset="0.6207" stop-color="rgb(181,181,181)"/><stop offset="0.6250" stop-color="rgb(182,182,182)"/><stop offset="0.6293" stop-color="rgb(185,185,185)"/><stop offset="0.6336" stop-color="rgb(189,189,189)"/><stop offset="0.6379" stop-color="rgb(186,186,186)"/><stop offset="0.6422" stop-color="rgb(175,175,175)"/><stop offset="0.6466" stop-color="rgb(166,166,166)"/><stop offset="0.6509" stop-color="rgb(168,168,168)"/><stop offset="0.6552" stop-color="rgb(181,181,181)"/><stop offset="0.6595" stop-color="rgb(196,196,196)"/><stop offset="0.6638" stop-color="rgb(207,207,207)"/><stop offset="0.6681" stop-color="rgb(212,212,212)"/><stop offset="0.6724" stop-color="rgb(212,212,212)"/><stop offset="0.6767" stop-color="rgb(210,210,210)"/><stop offset="0.6810" stop-color="rgb(205,205,205)"/><stop offset="0.6853" stop-color="rgb(197,197,197)"/><stop offset="0.6897" stop-color="rgb(190,190,190)"/><stop offset="0.6940" stop-color="rgb(188,188,188)"/><stop offset="0.6983" stop-color="rgb(193,193,193)"/><stop offset="0.7026" stop-color="rgb(201,201,201)"/><stop offset="0.7069" stop-color="rgb(208,208,208)"/><stop offset="0.7112" stop-color="rgb(209,209,209)"/><stop offset="0.7155" stop-color="rgb(201,201,201)"/><stop offset="0.7198" stop-color="rgb(184,184,184)"/><stop offset="0.7241" stop-color="rgb(160,160,160)"/><stop offset="0.7284" stop-color="rgb(140,140,140)"/><stop offset="0.7328" stop-color="rgb(133,133,133)"/><stop offset="0.7371" stop-color="rgb(145,145,145)"/><stop offset="0.7414" stop-color="rgb(167,167,167)"/><stop offset="0.7457" stop-color="rgb(187,187,187)"/><stop offset="0.7500" stop-color="rgb(197,197,197)"/><stop offset="0.7543" stop-color="rgb(199,199,199)"/><stop offset="0.7586" stop-color="rgb(201,201,201)"/><stop offset="0.7629" stop-color="rgb(208,208,208)"/><stop offset="0.7672" stop-color="rgb(216,216,216)"/><stop offset="0.7716" stop-color="rgb(221,221,221)"/><stop offset="0.7759" stop-color="rgb(221,221,221)"/><stop offset="0.7802" stop-color="rgb(216,216,216)"/><stop offset="0.7845" stop-color="rgb(206,206,206)"/><stop offset="0.7888" stop-color="rgb(191,191,191)"/><stop offset="0.7931" stop-color="rgb(179,179,179)"/><stop offset="0.7974" stop-color="rgb(177,177,177)"/><stop offset="0.8017" stop-color="rgb(187,187,187)"/><stop offset="0.8060" stop-color="rgb(202,202,202)"/><stop offset="0.8103" stop-color="rgb(216,216,216)"/><stop offset="0.8147" stop-color="rgb(224,224,224)"/><stop offset="0.8190" stop-color="rgb(228,228,228)"/><stop offset="0.8233" stop-color="rgb(229,229,229)"/><stop offset="0.8276" stop-color="rgb(229,229,229)"/><stop offset="0.8319" stop-color="rgb(228,228,228)"/><stop offset="0.8362" stop-color="rgb(226,226,226)"/><stop offset="0.8405" stop-color="rgb(222,222,222)"/><stop offset="0.8448" stop-color="rgb(216,216,216)"/><stop offset="0.8491" stop-color="rgb(211,211,211)"/><stop offset="0.8534" stop-color="rgb(208,208,208)"/><stop offset="0.8578" stop-color="rgb(207,207,207)"/><stop offset="0.8621" stop-color="rgb(205,205,205)"/><stop offset="0.8664" stop-color="rgb(206,206,206)"/><stop offset="0.8707" stop-color="rgb(210,210,210)"/><stop offset="0.8750" stop-color="rgb(215,215,215)"/><stop offset="0.8793" stop-color="rgb(214,214,214)"/><stop offset="0.8836" stop-color="rgb(200,200,200)"/><stop offset="0.8879" stop-color="rgb(174,174,174)"/><stop offset="0.8922" stop-color="rgb(147,147,147)"/><stop offset="0.8966" stop-color="rgb(132,132,132)"/><stop offset="0.9009" stop-color="rgb(134,134,134)"/><stop offset="0.9052" stop-color="rgb(149,149,149)"/><stop offset="0.9095" stop-color="rgb(166,166,166)"/><stop offset="0.9138" stop-color="rgb(184,184,184)"/><stop offset="0.9181" stop-color="rgb(206,206,206)"/><stop offset="0.9224" stop-color="rgb(224,224,224)"/><stop offset="0.9267" stop-color="rgb(229,229,229)"/><stop offset="0.9310" stop-color="rgb(221,221,221)"/><stop offset="0.9353" stop-color="rgb(205,205,205)"/><stop offset="0.9397" stop-color="rgb(189,189,189)"/><stop offset="0.9440" stop-color="rgb(187,187,187)"/><stop offset="0.9483" stop-color="rgb(200,200,200)"/><stop offset="0.9526" stop-color="rgb(220,220,220)"/><stop offset="0.9569" stop-color="rgb(235,235,235)"/><stop offset="0.9612" stop-color="rgb(242,242,242)"/><stop offset="0.9655" stop-color="rgb(245,245,245)"/><stop offset="0.9698" stop-color="rgb(246,246,246)"/><stop offset="0.9741" stop-color="rgb(246,246,246)"/><stop offset="0.9784" stop-color="rgb(246,246,246)"/><stop offset="0.9828" stop-color="rgb(246,246,246)"/><stop offset="0.9871" stop-color="rgb(246,246,246)"/><stop offset="0.9914" stop-color="rgb(246,246,246)"/><stop offset="0.9957" stop-color="rgb(246,246,246)"/><stop offset="1.0000" stop-color="rgb(246,246,246)"/></linearGradient><linearGradient id="eg6" x1="0" y1="0" x2="1" y2="0"><stop offset="0" stop-color="#000" stop-opacity="0.32"/><stop offset="0.15" stop-color="#000" stop-opacity="0.14"/><stop offset="0.3" stop-color="#000" stop-opacity="0"/><stop offset="0.7" stop-color="#000" stop-opacity="0"/><stop offset="0.87" stop-color="#000" stop-opacity="0.08"/><stop offset="1" stop-color="#000" stop-opacity="0.2"/></linearGradient></defs><rect x="17" y="48.2" width="244" height="231.6" fill="rgb(246,246,246)"/><g filter="url(#gblur)"><path d="M21.0 50 L46.3 50 L50.3 271 L25.0 271 Z" fill="url(#lg1)"/><path d="M21.3 62 L46.599999999999994 62 L50.3 271 L25.0 271 Z" fill="url(#eg1)"/><path d="M28.4 272.8 C34.4 272.40000000000003 50.4 272.6 55.9 273.3 Q58.9 274.6 55.9 275.90000000000003 C50.4 276.6 34.4 276.8 28.4 276.40000000000003 Q25.799999999999997 274.6 28.4 272.8 Z" fill="rgb(10,10,10)" opacity="0.97"/><path d="M64.8 50 L90.8 50 L94.8 271 L68.8 271 Z" fill="url(#lg2)"/><path d="M65.1 62 L91.1 62 L94.8 271 L68.8 271 Z" fill="url(#eg2)"/><path d="M73.0 272.8 C79.0 272.40000000000003 93.0 272.6 98.5 273.3 Q101.5 274.6 98.5 275.90000000000003 C93.0 276.6 79.0 276.8 73.0 276.40000000000003 Q70.4 274.6 73.0 272.8 Z" fill="rgb(10,10,10)" opacity="0.82"/><path d="M103.9 50 L129.3 50 L130.8 271 L105.4 271 Z" fill="url(#lg3)"/><path d="M104.2 62 L129.60000000000002 62 L130.8 271 L105.4 271 Z" fill="url(#eg3)"/><path d="M109.3 273.6 C115.3 273.20000000000005 122.30000000000001 273.40000000000003 127.80000000000001 274.1 Q130.8 275.40000000000003 127.80000000000001 276.70000000000005 C122.30000000000001 277.40000000000003 115.3 277.6 109.3 277.20000000000005 Q106.7 275.40000000000003 109.3 273.6 Z" fill="rgb(10,10,10)" opacity="0.92"/><path d="M142.3 50 L168.3 50 L169.8 271 L143.8 271 Z" fill="url(#lg4)"/><path d="M142.60000000000002 62 L168.60000000000002 62 L169.8 271 L143.8 271 Z" fill="url(#eg4)"/><path d="M141.9 273.40000000000003 C147.9 273.00000000000006 160.9 273.20000000000005 166.4 273.90000000000003 Q169.4 275.20000000000005 166.4 276.50000000000006 C160.9 277.20000000000005 147.9 277.40000000000003 141.9 277.00000000000006 Q139.3 275.20000000000005 141.9 273.40000000000003 Z" fill="rgb(10,10,10)" opacity="0.9"/><path d="M182.9 50 L209.5 50 L211.0 271 L184.4 271 Z" fill="url(#lg5)"/><path d="M183.20000000000002 62 L209.8 62 L211.0 271 L184.4 271 Z" fill="url(#eg5)"/><path d="M183.2 275.0 C189.2 274.6 201.2 274.8 206.7 275.5 Q209.7 276.8 206.7 278.1 C201.2 278.8 189.2 279.0 183.2 278.6 Q180.6 276.8 183.2 275.0 Z" fill="rgb(10,10,10)" opacity="0.93"/><path d="M225.9 50 L252.6 50 L252.6 271 L225.9 271 Z" fill="url(#lg6)"/><path d="M226.20000000000002 62 L252.9 62 L252.6 271 L225.9 271 Z" fill="url(#eg6)"/><path d="M225.2 276.0 C231.2 275.6 245.2 275.8 250.7 276.5 Q253.7 277.8 250.7 279.1 C245.2 279.8 231.2 280.0 225.2 279.6 Q222.6 277.8 225.2 276.0 Z" fill="rgb(10,10,10)" opacity="0.97"/></g>
<text x="48.5" y="297.8" text-anchor="middle" font-family='"Liberation Sans", sans-serif' font-size="11.6" fill="#111">NPP</text>
<text x="87.0" y="297.8" text-anchor="middle" font-family='"Liberation Sans", sans-serif' font-size="11.6" fill="#111">BT</text>
<text x="122.8" y="297.8" text-anchor="middle" font-family='"Liberation Sans", sans-serif' font-size="11.6" fill="#111">HC</text>
<text x="157.5" y="297.8" text-anchor="middle" font-family='"Liberation Sans", sans-serif' font-size="11.6" fill="#111">HC</text>
<text x="197.8" y="297.8" text-anchor="middle" font-family='"Liberation Sans", sans-serif' font-size="11.6" fill="#111">BT</text>
<text x="235.0" y="297.8" text-anchor="middle" font-family='"Liberation Sans", sans-serif' font-size="11.6" fill="#111">NPP</text>
<rect x="0.65" y="0.65" width="518.7" height="696.7" fill="none" stroke="#242424" stroke-width="1.3"/>
<text transform="translate(9.9,24.5) scale(0.95,1)" font-family='"Liberation Sans", sans-serif' font-weight="bold" font-size="17.6" fill="#000" stroke="#000" stroke-width="0.3">A</text>
<text transform="translate(282.0,24.5) scale(0.95,1)" font-family='"Liberation Sans", sans-serif' font-weight="bold" font-size="17.6" fill="#000" stroke="#000" stroke-width="0.3">B</text>
<text transform="translate(10.2,374.9) scale(0.95,1)" font-family='"Liberation Sans", sans-serif' font-weight="bold" font-size="17.6" fill="#000" stroke="#000" stroke-width="0.3">C</text>
<text transform="translate(281.9,374.7) scale(0.95,1)" font-family='"Liberation Sans", sans-serif' font-weight="bold" font-size="17.6" fill="#000" stroke="#000" stroke-width="0.3">D</text>
<line x1="324.8" y1="33.5" x2="324.8" y2="306.7" stroke="#121212" stroke-width="1.7"/>
<line x1="320.2" y1="38.2" x2="324.8" y2="38.2" stroke="#121212" stroke-width="1.4"/>
<text x="314.8" y="42.0" text-anchor="end" font-family='"Liberation Sans", sans-serif' font-size="11.5" fill="#1a1a1a">50</text>
<line x1="320.2" y1="113.85000000000001" x2="324.8" y2="113.85000000000001" stroke="#121212" stroke-width="1.4"/>
<text x="314.8" y="117.65" text-anchor="end" font-family='"Liberation Sans", sans-serif' font-size="11.5" fill="#1a1a1a">40</text>
<line x1="320.2" y1="189.5" x2="324.8" y2="189.5" stroke="#121212" stroke-width="1.4"/>
<text x="314.8" y="193.3" text-anchor="end" font-family='"Liberation Sans", sans-serif' font-size="11.5" fill="#1a1a1a">30</text>
<line x1="320.2" y1="265.15000000000003" x2="324.8" y2="265.15000000000003" stroke="#121212" stroke-width="1.4"/>
<text x="314.8" y="268.95000000000005" text-anchor="end" font-family='"Liberation Sans", sans-serif' font-size="11.5" fill="#1a1a1a">20</text>
<line x1="333.9" y1="315.6" x2="508" y2="315.6" stroke="#121212" stroke-width="1.9"/>
<line x1="385.9" y1="315.6" x2="385.9" y2="319.8" stroke="#121212" stroke-width="1.4"/>
<text x="386.59999999999997" y="334.6" text-anchor="middle" font-family='"Liberation Sans", sans-serif' font-size="12.2" fill="#1a1a1a">HC</text>
<line x1="460.3" y1="315.6" x2="460.3" y2="319.8" stroke="#121212" stroke-width="1.4"/>
<text x="461.0" y="334.6" text-anchor="middle" font-family='"Liberation Sans", sans-serif' font-size="12.2" fill="#1a1a1a">BT</text>
<text transform="translate(292.7,174.8) rotate(-90) scale(0.785,1)" text-anchor="middle" font-family='"Liberation Sans", sans-serif' font-weight="bold" font-size="12.3" fill="#1a1a1a">% High MWM</text>
<line x1="53.5" y1="384.0" x2="53.5" y2="657.5" stroke="#121212" stroke-width="1.7"/>
<line x1="48.9" y1="388.3" x2="53.5" y2="388.3" stroke="#121212" stroke-width="1.4"/>
<text x="43.5" y="392.1" text-anchor="end" font-family='"Liberation Sans", sans-serif' font-size="11.5" fill="#1a1a1a">50</text>
<line x1="48.9" y1="441.28000000000003" x2="53.5" y2="441.28000000000003" stroke="#121212" stroke-width="1.4"/>
<text x="43.5" y="445.08000000000004" text-anchor="end" font-family='"Liberation Sans", sans-serif' font-size="11.5" fill="#1a1a1a">45</text>
<line x1="48.9" y1="494.26" x2="53.5" y2="494.26" stroke="#121212" stroke-width="1.4"/>
<text x="43.5" y="498.06" text-anchor="end" font-family='"Liberation Sans", sans-serif' font-size="11.5" fill="#1a1a1a">40</text>
<line x1="48.9" y1="547.24" x2="53.5" y2="547.24" stroke="#121212" stroke-width="1.4"/>
<text x="43.5" y="551.04" text-anchor="end" font-family='"Liberation Sans", sans-serif' font-size="11.5" fill="#1a1a1a">35</text>
<line x1="48.9" y1="600.22" x2="53.5" y2="600.22" stroke="#121212" stroke-width="1.4"/>
<text x="43.5" y="604.02" text-anchor="end" font-family='"Liberation Sans", sans-serif' font-size="11.5" fill="#1a1a1a">30</text>
<line x1="48.9" y1="653.2" x2="53.5" y2="653.2" stroke="#121212" stroke-width="1.4"/>
<text x="43.5" y="657.0" text-anchor="end" font-family='"Liberation Sans", sans-serif' font-size="11.5" fill="#1a1a1a">25</text>
<line x1="62.2" y1="665.9" x2="236.3" y2="665.9" stroke="#121212" stroke-width="1.9"/>
<line x1="114.6" y1="665.9" x2="114.6" y2="670.1" stroke="#121212" stroke-width="1.4"/>
<text x="115.3" y="684.9" text-anchor="middle" font-family='"Liberation Sans", sans-serif' font-size="12.2" fill="#1a1a1a">HC</text>
<line x1="188.9" y1="665.9" x2="188.9" y2="670.1" stroke="#121212" stroke-width="1.4"/>
<text x="189.6" y="684.9" text-anchor="middle" font-family='"Liberation Sans", sans-serif' font-size="12.2" fill="#1a1a1a">BT</text>
<text transform="translate(21.2,525.2) rotate(-90) scale(0.785,1)" text-anchor="middle" font-family='"Liberation Sans", sans-serif' font-weight="bold" font-size="12.3" fill="#1a1a1a">% Intermediate MWM</text>
<line x1="324.7" y1="383.8" x2="324.7" y2="657.3" stroke="#121212" stroke-width="1.7"/>
<line x1="320.09999999999997" y1="388.3" x2="324.7" y2="388.3" stroke="#121212" stroke-width="1.4"/>
<text x="314.7" y="392.1" text-anchor="end" font-family='"Liberation Sans", sans-serif' font-size="11.5" fill="#1a1a1a">50</text>
<line x1="320.09999999999997" y1="464.07" x2="324.7" y2="464.07" stroke="#121212" stroke-width="1.4"/>
<text x="314.7" y="467.87" text-anchor="end" font-family='"Liberation Sans", sans-serif' font-size="11.5" fill="#1a1a1a">40</text>
<line x1="320.09999999999997" y1="539.84" x2="324.7" y2="539.84" stroke="#121212" stroke-width="1.4"/>
<text x="314.7" y="543.64" text-anchor="end" font-family='"Liberation Sans", sans-serif' font-size="11.5" fill="#1a1a1a">30</text>
<line x1="320.09999999999997" y1="615.61" x2="324.7" y2="615.61" stroke="#121212" stroke-width="1.4"/>
<text x="314.7" y="619.41" text-anchor="end" font-family='"Liberation Sans", sans-serif' font-size="11.5" fill="#1a1a1a">20</text>
<line x1="333.9" y1="665.9" x2="507.5" y2="665.9" stroke="#121212" stroke-width="1.9"/>
<line x1="385.4" y1="665.9" x2="385.4" y2="670.1" stroke="#121212" stroke-width="1.4"/>
<text x="386.09999999999997" y="684.9" text-anchor="middle" font-family='"Liberation Sans", sans-serif' font-size="12.2" fill="#1a1a1a">HC</text>
<line x1="460.1" y1="665.9" x2="460.1" y2="670.1" stroke="#121212" stroke-width="1.4"/>
<text x="460.8" y="684.9" text-anchor="middle" font-family='"Liberation Sans", sans-serif' font-size="12.2" fill="#1a1a1a">BT</text>
<text transform="translate(292.7,524) rotate(-90) scale(0.785,1)" text-anchor="middle" font-family='"Liberation Sans", sans-serif' font-weight="bold" font-size="12.3" fill="#1a1a1a">% Low MWM</text>
<line x1="326.5" y1="152.0" x2="507.5" y2="152.0" stroke="#8c3040" stroke-width="1.6" stroke-dasharray="1.6 1.6"/>
<line x1="54.5" y1="525.8" x2="236" y2="525.8" stroke="#8c3040" stroke-width="1.6" stroke-dasharray="1.6 1.6"/>
<line x1="326.5" y1="539.4" x2="507.5" y2="539.4" stroke="#8c3040" stroke-width="1.6" stroke-dasharray="1.6 1.6"/>
<path d="M385.8 58.5 V54.5 H460.0 V64.5" fill="none" stroke="#2a2a2a" stroke-width="1.3"/>
<text x="423.25" y="54.5" text-anchor="middle" font-family='"Liberation Sans", sans-serif' font-weight="bold" font-size="10.2" letter-spacing="0.7" fill="#111">****</text>
<path d="M113.6 400 V395.4 H187.8 V428" fill="none" stroke="#2a2a2a" stroke-width="1.3"/>
<text x="151.04999999999998" y="394.8" text-anchor="middle" font-family='"Liberation Sans", sans-serif' font-weight="bold" font-size="10.2" letter-spacing="0.7" fill="#111">*</text>
<path d="M386.0 411.5 V407.3 H460.2 V472.5" fill="none" stroke="#2a2a2a" stroke-width="1.3"/>
<text x="423.45000000000005" y="407" text-anchor="middle" font-family='"Liberation Sans", sans-serif' font-weight="bold" font-size="10.2" letter-spacing="0.7" fill="#111">***</text>
<path d="M386.4 151.8 V219.1" stroke="#050505" stroke-width="1.3" fill="none"/>
<path d="M460.2 128.5 V186.7" stroke="#050505" stroke-width="1.3" fill="none"/>
<path d="M114.4 487.5 V537.5" stroke="#050505" stroke-width="1.3" fill="none"/>
<path d="M188.1 503.0 V550.1" stroke="#050505" stroke-width="1.3" fill="none"/>
<path d="M386.0 505.6 V558.8" stroke="#050505" stroke-width="1.3" fill="none"/>
<path d="M460.1 527.8 V587.2" stroke="#050505" stroke-width="1.3" fill="none"/>
<circle cx="385.9" cy="63.7" r="2.1" fill="none" stroke="#1f4570" stroke-width="1.22"/>
<circle cx="385.9" cy="68.6" r="2.1" fill="none" stroke="#1f4570" stroke-width="1.22"/>
<circle cx="385.9" cy="74.6" r="2.1" fill="none" stroke="#1f4570" stroke-width="1.22"/>
<circle cx="385.9" cy="95.0" r="2.1" fill="none" stroke="#1f4570" stroke-width="1.22"/>
<circle cx="382.8" cy="107.8" r="2.1" fill="none" stroke="#1f4570" stroke-width="1.22"/>
<circle cx="389.2" cy="106.0" r="2.1" fill="none" stroke="#1f4570" stroke-width="1.22"/>
<circle cx="395.7" cy="106.3" r="2.1" fill="none" stroke="#1f4570" stroke-width="1.22"/>
<circle cx="386.2" cy="112.1" r="2.1" fill="none" stroke="#1f4570" stroke-width="1.22"/>
<circle cx="382.8" cy="117.1" r="2.1" fill="none" stroke="#1f4570" stroke-width="1.22"/>
<circle cx="389.2" cy="117.9" r="2.1" fill="none" stroke="#1f4570" stroke-width="1.22"/>
<circle cx="382.8" cy="129.1" r="2.1" fill="none" stroke="#1f4570" stroke-width="1.22"/>
<circle cx="376.5" cy="133.7" r="2.1" fill="none" stroke="#1f4570" stroke-width="1.22"/>
<circle cx="376.5" cy="138.7" r="2.1" fill="none" stroke="#1f4570" stroke-width="1.22"/>
<circle cx="389.5" cy="132.9" r="2.1" fill="none" stroke="#1f4570" stroke-width="1.22"/>
<circle cx="395.8" cy="130.6" r="2.1" fill="none" stroke="#1f4570" stroke-width="1.22"/>
<circle cx="389.5" cy="138.1" r="2.1" fill="none" stroke="#1f4570" stroke-width="1.22"/>
<circle cx="395.8" cy="137.3" r="2.1" fill="none" stroke="#1f4570" stroke-width="1.22"/>
<circle cx="389.5" cy="142.9" r="2.1" fill="none" stroke="#1f4570" stroke-width="1.22"/>
<circle cx="395.8" cy="141.5" r="2.1" fill="none" stroke="#1f4570" stroke-width="1.22"/>
<circle cx="376.5" cy="145.6" r="2.1" fill="none" stroke="#1f4570" stroke-width="1.22"/>
<circle cx="382.8" cy="147.3" r="2.1" fill="none" stroke="#1f4570" stroke-width="1.22"/>
<circle cx="389.5" cy="149.2" r="2.1" fill="none" stroke="#1f4570" stroke-width="1.22"/>
<circle cx="395.8" cy="151.5" r="2.1" fill="none" stroke="#1f4570" stroke-width="1.22"/>
<circle cx="376.5" cy="152.7" r="2.1" fill="none" stroke="#1f4570" stroke-width="1.22"/>
<circle cx="382.8" cy="153.0" r="2.1" fill="none" stroke="#1f4570" stroke-width="1.22"/>
<circle cx="389.5" cy="155.0" r="2.1" fill="none" stroke="#1f4570" stroke-width="1.22"/>
<circle cx="395.8" cy="156.2" r="2.1" fill="none" stroke="#1f4570" stroke-width="1.22"/>
<circle cx="376.5" cy="158.5" r="2.1" fill="none" stroke="#1f4570" stroke-width="1.22"/>
<circle cx="389.5" cy="161.3" r="2.1" fill="none" stroke="#1f4570" stroke-width="1.22"/>
<circle cx="395.8" cy="161.1" r="2.1" fill="none" stroke="#1f4570" stroke-width="1.22"/>
<circle cx="376.5" cy="166.0" r="2.1" fill="none" stroke="#1f4570" stroke-width="1.22"/>
<circle cx="382.8" cy="167.1" r="2.1" fill="none" stroke="#1f4570" stroke-width="1.22"/>
<circle cx="389.5" cy="168.3" r="2.1" fill="none" stroke="#1f4570" stroke-width="1.22"/>
<circle cx="376.5" cy="170.6" r="2.1" fill="none" stroke="#1f4570" stroke-width="1.22"/>
<circle cx="389.5" cy="173.2" r="2.1" fill="none" stroke="#1f4570" stroke-width="1.22"/>
<circle cx="395.8" cy="174.4" r="2.1" fill="none" stroke="#1f4570" stroke-width="1.22"/>
<circle cx="376.5" cy="175.2" r="2.1" fill="none" stroke="#1f4570" stroke-width="1.22"/>
<circle cx="389.5" cy="178.1" r="2.1" fill="none" stroke="#1f4570" stroke-width="1.22"/>
<circle cx="389.5" cy="183.6" r="2.1" fill="none" stroke="#1f4570" stroke-width="1.22"/>
<circle cx="369.8" cy="186.7" r="2.1" fill="none" stroke="#1f4570" stroke-width="1.22"/>
<circle cx="376.5" cy="187.3" r="2.1" fill="none" stroke="#1f4570" stroke-width="1.22"/>
<circle cx="382.8" cy="187.3" r="2.1" fill="none" stroke="#1f4570" stroke-width="1.22"/>
<circle cx="395.8" cy="189.0" r="2.1" fill="none" stroke="#1f4570" stroke-width="1.22"/>
<circle cx="402.2" cy="187.3" r="2.1" fill="none" stroke="#1f4570" stroke-width="1.22"/>
<circle cx="382.8" cy="190.5" r="2.1" fill="none" stroke="#1f4570" stroke-width="1.22"/>
<circle cx="363.2" cy="194.1" r="2.1" fill="none" stroke="#1f4570" stroke-width="1.22"/>
<circle cx="369.8" cy="194.1" r="2.1" fill="none" stroke="#1f4570" stroke-width="1.22"/>
<circle cx="376.5" cy="193.5" r="2.1" fill="none" stroke="#1f4570" stroke-width="1.22"/>
<circle cx="382.8" cy="193.0" r="2.1" fill="none" stroke="#1f4570" stroke-width="1.22"/>
<circle cx="389.5" cy="194.1" r="2.1" fill="none" stroke="#1f4570" stroke-width="1.22"/>
<circle cx="395.8" cy="195.8" r="2.1" fill="none" stroke="#1f4570" stroke-width="1.22"/>
<circle cx="402.2" cy="193.5" r="2.1" fill="none" stroke="#1f4570" stroke-width="1.22"/>
<circle cx="408.8" cy="194.5" r="2.1" fill="none" stroke="#1f4570" stroke-width="1.22"/>
<circle cx="382.8" cy="200.5" r="2.1" fill="none" stroke="#1f4570" stroke-width="1.22"/>
<circle cx="389.5" cy="200.5" r="2.1" fill="none" stroke="#1f4570" stroke-width="1.22"/>
<circle cx="376.5" cy="203.3" r="2.1" fill="none" stroke="#1f4570" stroke-width="1.22"/>
<circle cx="363.2" cy="205.7" r="2.1" fill="none" stroke="#1f4570" stroke-width="1.22"/>
<circle cx="363.2" cy="210.3" r="2.1" fill="none" stroke="#1f4570" stroke-width="1.22"/>
<circle cx="369.8" cy="210.3" r="2.1" fill="none" stroke="#1f4570" stroke-width="1.22"/>
<circle cx="376.5" cy="212.6" r="2.1" fill="none" stroke="#1f4570" stroke-width="1.22"/>
<circle cx="382.8" cy="207.6" r="2.1" fill="none" stroke="#1f4570" stroke-width="1.22"/>
<circle cx="382.8" cy="213.2" r="2.1" fill="none" stroke="#1f4570" stroke-width="1.22"/>
<circle cx="389.5" cy="210.8" r="2.1" fill="none" stroke="#1f4570" stroke-width="1.22"/>
<circle cx="389.5" cy="215.5" r="2.1" fill="none" stroke="#1f4570" stroke-width="1.22"/>
<circle cx="395.8" cy="208.8" r="2.1" fill="none" stroke="#1f4570" stroke-width="1.22"/>
<circle cx="395.8" cy="212.9" r="2.1" fill="none" stroke="#1f4570" stroke-width="1.22"/>
<circle cx="402.2" cy="207.2" r="2.1" fill="none" stroke="#1f4570" stroke-width="1.22"/>
<circle cx="402.2" cy="211.8" r="2.1" fill="none" stroke="#1f4570" stroke-width="1.22"/>
<circle cx="408.8" cy="210.3" r="2.1" fill="none" stroke="#1f4570" stroke-width="1.22"/>
<circle cx="376.5" cy="219.2" r="2.1" fill="none" stroke="#1f4570" stroke-width="1.22"/>
<circle cx="382.8" cy="219.2" r="2.1" fill="none" stroke="#1f4570" stroke-width="1.22"/>
<circle cx="389.5" cy="220.1" r="2.1" fill="none" stroke="#1f4570" stroke-width="1.22"/>
<circle cx="369.6" cy="225.5" r="2.1" fill="none" stroke="#1f4570" stroke-width="1.22"/>
<circle cx="382.8" cy="225.2" r="2.1" fill="none" stroke="#1f4570" stroke-width="1.22"/>
<circle cx="389.5" cy="226.8" r="2.1" fill="none" stroke="#1f4570" stroke-width="1.22"/>
<circle cx="395.8" cy="225.5" r="2.1" fill="none" stroke="#1f4570" stroke-width="1.22"/>
<circle cx="395.8" cy="230.1" r="2.1" fill="none" stroke="#1f4570" stroke-width="1.22"/>
<circle cx="376.5" cy="228.0" r="2.1" fill="none" stroke="#1f4570" stroke-width="1.22"/>
<circle cx="376.5" cy="233.0" r="2.1" fill="none" stroke="#1f4570" stroke-width="1.22"/>
<circle cx="382.8" cy="235.3" r="2.1" fill="none" stroke="#1f4570" stroke-width="1.22"/>
<circle cx="389.5" cy="233.5" r="2.1" fill="none" stroke="#1f4570" stroke-width="1.22"/>
<circle cx="389.5" cy="239.9" r="2.1" fill="none" stroke="#1f4570" stroke-width="1.22"/>
<circle cx="376.5" cy="241.8" r="2.1" fill="none" stroke="#1f4570" stroke-width="1.22"/>
<circle cx="382.8" cy="240.2" r="2.1" fill="none" stroke="#1f4570" stroke-width="1.22"/>
<circle cx="382.8" cy="245.7" r="2.1" fill="none" stroke="#1f4570" stroke-width="1.22"/>
<circle cx="382.8" cy="250.3" r="2.1" fill="none" stroke="#1f4570" stroke-width="1.22"/>
<circle cx="389.5" cy="254.1" r="2.1" fill="none" stroke="#1f4570" stroke-width="1.22"/>
<circle cx="386.0" cy="259.8" r="2.1" fill="none" stroke="#1f4570" stroke-width="1.22"/>
<circle cx="386.0" cy="264.9" r="2.1" fill="none" stroke="#1f4570" stroke-width="1.22"/>
<circle cx="386.0" cy="290.3" r="2.1" fill="none" stroke="#1f4570" stroke-width="1.22"/>
<circle cx="389.5" cy="295.2" r="2.1" fill="none" stroke="#1f4570" stroke-width="1.22"/>
<circle cx="382.8" cy="298.4" r="2.1" fill="none" stroke="#1f4570" stroke-width="1.22"/>
<circle cx="460.0" cy="70.1" r="2.15" fill="#b80a30" stroke="#8e0828" stroke-width="0.6"/>
<circle cx="462.7" cy="80.5" r="2.15" fill="#b80a30" stroke="#8e0828" stroke-width="0.6"/>
<circle cx="457.5" cy="84.2" r="2.15" fill="#b80a30" stroke="#8e0828" stroke-width="0.6"/>
<circle cx="462.7" cy="88.9" r="2.15" fill="#b80a30" stroke="#8e0828" stroke-width="0.6"/>
<circle cx="457.5" cy="92.0" r="2.15" fill="#b80a30" stroke="#8e0828" stroke-width="0.6"/>
<circle cx="460.0" cy="101.8" r="2.15" fill="#b80a30" stroke="#8e0828" stroke-width="0.6"/>
<circle cx="467.7" cy="112.8" r="2.15" fill="#b80a30" stroke="#8e0828" stroke-width="0.6"/>
<circle cx="473.0" cy="113.0" r="2.15" fill="#b80a30" stroke="#8e0828" stroke-width="0.6"/>
<circle cx="462.8" cy="115.2" r="2.15" fill="#b80a30" stroke="#8e0828" stroke-width="0.6"/>
<circle cx="452.3" cy="116.0" r="2.15" fill="#b80a30" stroke="#8e0828" stroke-width="0.6"/>
<circle cx="457.5" cy="116.8" r="2.15" fill="#b80a30" stroke="#8e0828" stroke-width="0.6"/>
<circle cx="467.7" cy="119.0" r="2.15" fill="#b80a30" stroke="#8e0828" stroke-width="0.6"/>
<circle cx="442.5" cy="122.8" r="2.15" fill="#b80a30" stroke="#8e0828" stroke-width="0.6"/>
<circle cx="467.7" cy="123.5" r="2.15" fill="#b80a30" stroke="#8e0828" stroke-width="0.6"/>
<circle cx="473.0" cy="123.5" r="2.15" fill="#b80a30" stroke="#8e0828" stroke-width="0.6"/>
<circle cx="437.5" cy="127.0" r="2.15" fill="#b80a30" stroke="#8e0828" stroke-width="0.6"/>
<circle cx="442.5" cy="127.5" r="2.15" fill="#b80a30" stroke="#8e0828" stroke-width="0.6"/>
<circle cx="447.5" cy="127.5" r="2.15" fill="#b80a30" stroke="#8e0828" stroke-width="0.6"/>
<circle cx="462.8" cy="126.5" r="2.15" fill="#b80a30" stroke="#8e0828" stroke-width="0.6"/>
<circle cx="478.0" cy="127.2" r="2.15" fill="#b80a30" stroke="#8e0828" stroke-width="0.6"/>
<circle cx="483.0" cy="128.0" r="2.15" fill="#b80a30" stroke="#8e0828" stroke-width="0.6"/>
<circle cx="452.3" cy="130.5" r="2.15" fill="#b80a30" stroke="#8e0828" stroke-width="0.6"/>
<circle cx="457.5" cy="130.0" r="2.15" fill="#b80a30" stroke="#8e0828" stroke-width="0.6"/>
<circle cx="462.8" cy="131.0" r="2.15" fill="#b80a30" stroke="#8e0828" stroke-width="0.6"/>
<circle cx="467.7" cy="130.0" r="2.15" fill="#b80a30" stroke="#8e0828" stroke-width="0.6"/>
<circle cx="473.0" cy="130.0" r="2.15" fill="#b80a30" stroke="#8e0828" stroke-width="0.6"/>
<circle cx="478.0" cy="133.5" r="2.15" fill="#b80a30" stroke="#8e0828" stroke-width="0.6"/>
<circle cx="442.5" cy="135.2" r="2.15" fill="#b80a30" stroke="#8e0828" stroke-width="0.6"/>
<circle cx="452.3" cy="134.5" r="2.15" fill="#b80a30" stroke="#8e0828" stroke-width="0.6"/>
<circle cx="473.0" cy="134.5" r="2.15" fill="#b80a30" stroke="#8e0828" stroke-width="0.6"/>
<circle cx="447.5" cy="138.5" r="2.15" fill="#b80a30" stroke="#8e0828" stroke-width="0.6"/>
<circle cx="452.3" cy="138.5" r="2.15" fill="#b80a30" stroke="#8e0828" stroke-width="0.6"/>
<circle cx="457.5" cy="137.0" r="2.15" fill="#b80a30" stroke="#8e0828" stroke-width="0.6"/>
<circle cx="462.8" cy="138.0" r="2.15" fill="#b80a30" stroke="#8e0828" stroke-width="0.6"/>
<circle cx="467.7" cy="139.5" r="2.15" fill="#b80a30" stroke="#8e0828" stroke-width="0.6"/>
<circle cx="473.0" cy="138.5" r="2.15" fill="#b80a30" stroke="#8e0828" stroke-width="0.6"/>
<circle cx="478.0" cy="138.0" r="2.15" fill="#b80a30" stroke="#8e0828" stroke-width="0.6"/>
<circle cx="457.5" cy="141.5" r="2.15" fill="#b80a30" stroke="#8e0828" stroke-width="0.6"/>
<circle cx="462.8" cy="144.5" r="2.15" fill="#b80a30" stroke="#8e0828" stroke-width="0.6"/>
<circle cx="467.7" cy="144.5" r="2.15" fill="#b80a30" stroke="#8e0828" stroke-width="0.6"/>
<circle cx="457.5" cy="147.0" r="2.15" fill="#b80a30" stroke="#8e0828" stroke-width="0.6"/>
<circle cx="452.3" cy="150.5" r="2.15" fill="#b80a30" stroke="#8e0828" stroke-width="0.6"/>
<circle cx="462.8" cy="149.5" r="2.15" fill="#b80a30" stroke="#8e0828" stroke-width="0.6"/>
<circle cx="467.7" cy="152.0" r="2.15" fill="#b80a30" stroke="#8e0828" stroke-width="0.6"/>
<circle cx="457.5" cy="154.0" r="2.15" fill="#b80a30" stroke="#8e0828" stroke-width="0.6"/>
<circle cx="462.8" cy="158.0" r="2.15" fill="#b80a30" stroke="#8e0828" stroke-width="0.6"/>
<circle cx="447.5" cy="163.5" r="2.15" fill="#b80a30" stroke="#8e0828" stroke-width="0.6"/>
<circle cx="457.5" cy="164.5" r="2.15" fill="#b80a30" stroke="#8e0828" stroke-width="0.6"/>
<circle cx="462.8" cy="165.5" r="2.15" fill="#b80a30" stroke="#8e0828" stroke-width="0.6"/>
<circle cx="467.7" cy="165.5" r="2.15" fill="#b80a30" stroke="#8e0828" stroke-width="0.6"/>
<circle cx="447.5" cy="168.5" r="2.15" fill="#b80a30" stroke="#8e0828" stroke-width="0.6"/>
<circle cx="452.3" cy="167.8" r="2.15" fill="#b80a30" stroke="#8e0828" stroke-width="0.6"/>
<circle cx="473.0" cy="167.8" r="2.15" fill="#b80a30" stroke="#8e0828" stroke-width="0.6"/>
<circle cx="442.1" cy="172.2" r="2.15" fill="#b80a30" stroke="#8e0828" stroke-width="0.6"/>
<circle cx="447.3" cy="174.8" r="2.15" fill="#b80a30" stroke="#8e0828" stroke-width="0.6"/>
<circle cx="457.7" cy="173.1" r="2.15" fill="#b80a30" stroke="#8e0828" stroke-width="0.6"/>
<circle cx="462.7" cy="176.0" r="2.15" fill="#b80a30" stroke="#8e0828" stroke-width="0.6"/>
<circle cx="467.8" cy="174.5" r="2.15" fill="#b80a30" stroke="#8e0828" stroke-width="0.6"/>
<circle cx="472.7" cy="173.1" r="2.15" fill="#b80a30" stroke="#8e0828" stroke-width="0.6"/>
<circle cx="477.9" cy="173.1" r="2.15" fill="#b80a30" stroke="#8e0828" stroke-width="0.6"/>
<circle cx="462.7" cy="182.9" r="2.15" fill="#b80a30" stroke="#8e0828" stroke-width="0.6"/>
<circle cx="452.5" cy="186.3" r="2.15" fill="#b80a30" stroke="#8e0828" stroke-width="0.6"/>
<circle cx="457.7" cy="187.5" r="2.15" fill="#b80a30" stroke="#8e0828" stroke-width="0.6"/>
<circle cx="447.3" cy="191.2" r="2.15" fill="#b80a30" stroke="#8e0828" stroke-width="0.6"/>
<circle cx="452.5" cy="191.2" r="2.15" fill="#b80a30" stroke="#8e0828" stroke-width="0.6"/>
<circle cx="457.7" cy="193.8" r="2.15" fill="#b80a30" stroke="#8e0828" stroke-width="0.6"/>
<circle cx="462.7" cy="192.0" r="2.15" fill="#b80a30" stroke="#8e0828" stroke-width="0.6"/>
<circle cx="472.7" cy="190.3" r="2.15" fill="#b80a30" stroke="#8e0828" stroke-width="0.6"/>
<circle cx="447.3" cy="197.0" r="2.15" fill="#b80a30" stroke="#8e0828" stroke-width="0.6"/>
<circle cx="452.5" cy="196.7" r="2.15" fill="#b80a30" stroke="#8e0828" stroke-width="0.6"/>
<circle cx="457.7" cy="199.0" r="2.15" fill="#b80a30" stroke="#8e0828" stroke-width="0.6"/>
<circle cx="462.7" cy="198.2" r="2.15" fill="#b80a30" stroke="#8e0828" stroke-width="0.6"/>
<circle cx="472.7" cy="198.2" r="2.15" fill="#b80a30" stroke="#8e0828" stroke-width="0.6"/>
<circle cx="452.5" cy="209.3" r="2.15" fill="#b80a30" stroke="#8e0828" stroke-width="0.6"/>
<circle cx="457.7" cy="210.8" r="2.15" fill="#b80a30" stroke="#8e0828" stroke-width="0.6"/>
<circle cx="462.7" cy="212.2" r="2.15" fill="#b80a30" stroke="#8e0828" stroke-width="0.6"/>
<circle cx="467.5" cy="210.5" r="2.15" fill="#b80a30" stroke="#8e0828" stroke-width="0.6"/>
<circle cx="452.5" cy="215.7" r="2.15" fill="#b80a30" stroke="#8e0828" stroke-width="0.6"/>
<circle cx="462.7" cy="216.3" r="2.15" fill="#b80a30" stroke="#8e0828" stroke-width="0.6"/>
<circle cx="467.5" cy="215.7" r="2.15" fill="#b80a30" stroke="#8e0828" stroke-width="0.6"/>
<circle cx="460.0" cy="221.8" r="2.15" fill="#b80a30" stroke="#8e0828" stroke-width="0.6"/>
<circle cx="460.0" cy="234.5" r="2.15" fill="#b80a30" stroke="#8e0828" stroke-width="0.6"/>
<circle cx="114.4" cy="405.4" r="2.1" fill="none" stroke="#1f4570" stroke-width="1.22"/>
<circle cx="114.4" cy="419.0" r="2.1" fill="none" stroke="#1f4570" stroke-width="1.22"/>
<circle cx="114.4" cy="430.5" r="2.1" fill="none" stroke="#1f4570" stroke-width="1.22"/>
<circle cx="114.4" cy="447.5" r="2.1" fill="none" stroke="#1f4570" stroke-width="1.22"/>
<circle cx="114.4" cy="453.1" r="2.1" fill="none" stroke="#1f4570" stroke-width="1.22"/>
<circle cx="111.3" cy="461.4" r="2.1" fill="none" stroke="#1f4570" stroke-width="1.22"/>
<circle cx="117.7" cy="461.2" r="2.1" fill="none" stroke="#1f4570" stroke-width="1.22"/>
<circle cx="114.4" cy="466.6" r="2.1" fill="none" stroke="#1f4570" stroke-width="1.22"/>
<circle cx="104.6" cy="473.2" r="2.1" fill="none" stroke="#1f4570" stroke-width="1.22"/>
<circle cx="111.3" cy="473.8" r="2.1" fill="none" stroke="#1f4570" stroke-width="1.22"/>
<circle cx="117.7" cy="471.8" r="2.1" fill="none" stroke="#1f4570" stroke-width="1.22"/>
<circle cx="117.7" cy="476.4" r="2.1" fill="none" stroke="#1f4570" stroke-width="1.22"/>
<circle cx="124.2" cy="475.2" r="2.1" fill="none" stroke="#1f4570" stroke-width="1.22"/>
<circle cx="111.3" cy="480.4" r="2.1" fill="none" stroke="#1f4570" stroke-width="1.22"/>
<circle cx="130.6" cy="479.8" r="2.1" fill="none" stroke="#1f4570" stroke-width="1.22"/>
<circle cx="98.3" cy="483.6" r="2.1" fill="none" stroke="#1f4570" stroke-width="1.22"/>
<circle cx="104.6" cy="483.6" r="2.1" fill="none" stroke="#1f4570" stroke-width="1.22"/>
<circle cx="117.7" cy="483.6" r="2.1" fill="none" stroke="#1f4570" stroke-width="1.22"/>
<circle cx="124.0" cy="483.6" r="2.1" fill="none" stroke="#1f4570" stroke-width="1.22"/>
<circle cx="130.6" cy="484.2" r="2.1" fill="none" stroke="#1f4570" stroke-width="1.22"/>
<circle cx="97.9" cy="489.6" r="2.1" fill="none" stroke="#1f4570" stroke-width="1.22"/>
<circle cx="104.6" cy="488.0" r="2.1" fill="none" stroke="#1f4570" stroke-width="1.22"/>
<circle cx="110.8" cy="490.6" r="2.1" fill="none" stroke="#1f4570" stroke-width="1.22"/>
<circle cx="117.6" cy="487.5" r="2.1" fill="none" stroke="#1f4570" stroke-width="1.22"/>
<circle cx="123.8" cy="487.5" r="2.1" fill="none" stroke="#1f4570" stroke-width="1.22"/>
<circle cx="104.4" cy="494.4" r="2.1" fill="none" stroke="#1f4570" stroke-width="1.22"/>
<circle cx="117.6" cy="493.5" r="2.1" fill="none" stroke="#1f4570" stroke-width="1.22"/>
<circle cx="123.8" cy="493.5" r="2.1" fill="none" stroke="#1f4570" stroke-width="1.22"/>
<circle cx="111.2" cy="497.2" r="2.1" fill="none" stroke="#1f4570" stroke-width="1.22"/>
<circle cx="117.7" cy="497.2" r="2.1" fill="none" stroke="#1f4570" stroke-width="1.22"/>
<circle cx="91.4" cy="503.8" r="2.1" fill="none" stroke="#1f4570" stroke-width="1.22"/>
<circle cx="98.4" cy="502.5" r="2.1" fill="none" stroke="#1f4570" stroke-width="1.22"/>
<circle cx="98.4" cy="506.2" r="2.1" fill="none" stroke="#1f4570" stroke-width="1.22"/>
<circle cx="98.4" cy="512.1" r="2.1" fill="none" stroke="#1f4570" stroke-width="1.22"/>
<circle cx="104.8" cy="504.6" r="2.1" fill="none" stroke="#1f4570" stroke-width="1.22"/>
<circle cx="104.8" cy="508.9" r="2.1" fill="none" stroke="#1f4570" stroke-width="1.22"/>
<circle cx="104.8" cy="513.2" r="2.1" fill="none" stroke="#1f4570" stroke-width="1.22"/>
<circle cx="111.3" cy="502.7" r="2.1" fill="none" stroke="#1f4570" stroke-width="1.22"/>
<circle cx="111.3" cy="507.8" r="2.1" fill="none" stroke="#1f4570" stroke-width="1.22"/>
<circle cx="111.3" cy="515.2" r="2.1" fill="none" stroke="#1f4570" stroke-width="1.22"/>
<circle cx="117.8" cy="503.5" r="2.1" fill="none" stroke="#1f4570" stroke-width="1.22"/>
<circle cx="117.8" cy="509.5" r="2.1" fill="none" stroke="#1f4570" stroke-width="1.22"/>
<circle cx="117.8" cy="515.2" r="2.1" fill="none" stroke="#1f4570" stroke-width="1.22"/>
<circle cx="124.2" cy="503.5" r="2.1" fill="none" stroke="#1f4570" stroke-width="1.22"/>
<circle cx="124.2" cy="508.9" r="2.1" fill="none" stroke="#1f4570" stroke-width="1.22"/>
<circle cx="130.1" cy="501.4" r="2.1" fill="none" stroke="#1f4570" stroke-width="1.22"/>
<circle cx="130.1" cy="505.7" r="2.1" fill="none" stroke="#1f4570" stroke-width="1.22"/>
<circle cx="130.1" cy="512.1" r="2.1" fill="none" stroke="#1f4570" stroke-width="1.22"/>
<circle cx="137.1" cy="500.8" r="2.1" fill="none" stroke="#1f4570" stroke-width="1.22"/>
<circle cx="137.1" cy="506.2" r="2.1" fill="none" stroke="#1f4570" stroke-width="1.22"/>
<circle cx="98.4" cy="518.2" r="2.1" fill="none" stroke="#1f4570" stroke-width="1.22"/>
<circle cx="123.9" cy="518.7" r="2.1" fill="none" stroke="#1f4570" stroke-width="1.22"/>
<circle cx="130.1" cy="517.9" r="2.1" fill="none" stroke="#1f4570" stroke-width="1.22"/>
<circle cx="111.3" cy="521.5" r="2.1" fill="none" stroke="#1f4570" stroke-width="1.22"/>
<circle cx="117.8" cy="521.8" r="2.1" fill="none" stroke="#1f4570" stroke-width="1.22"/>
<circle cx="91.4" cy="525.8" r="2.1" fill="none" stroke="#1f4570" stroke-width="1.22"/>
<circle cx="98.4" cy="524.8" r="2.1" fill="none" stroke="#1f4570" stroke-width="1.22"/>
<circle cx="98.4" cy="528.8" r="2.1" fill="none" stroke="#1f4570" stroke-width="1.22"/>
<circle cx="104.8" cy="526.9" r="2.1" fill="none" stroke="#1f4570" stroke-width="1.22"/>
<circle cx="111.3" cy="526.4" r="2.1" fill="none" stroke="#1f4570" stroke-width="1.22"/>
<circle cx="111.3" cy="530.3" r="2.1" fill="none" stroke="#1f4570" stroke-width="1.22"/>
<circle cx="117.8" cy="524.8" r="2.1" fill="none" stroke="#1f4570" stroke-width="1.22"/>
<circle cx="117.8" cy="527.8" r="2.1" fill="none" stroke="#1f4570" stroke-width="1.22"/>
<circle cx="123.7" cy="523.1" r="2.1" fill="none" stroke="#1f4570" stroke-width="1.22"/>
<circle cx="123.7" cy="528.0" r="2.1" fill="none" stroke="#1f4570" stroke-width="1.22"/>
<circle cx="130.1" cy="523.1" r="2.1" fill="none" stroke="#1f4570" stroke-width="1.22"/>
<circle cx="130.1" cy="528.0" r="2.1" fill="none" stroke="#1f4570" stroke-width="1.22"/>
<circle cx="98.4" cy="537.3" r="2.1" fill="none" stroke="#1f4570" stroke-width="1.22"/>
<circle cx="104.8" cy="537.8" r="2.1" fill="none" stroke="#1f4570" stroke-width="1.22"/>
<circle cx="117.8" cy="536.8" r="2.1" fill="none" stroke="#1f4570" stroke-width="1.22"/>
<circle cx="123.7" cy="534.6" r="2.1" fill="none" stroke="#1f4570" stroke-width="1.22"/>
<circle cx="130.1" cy="537.0" r="2.1" fill="none" stroke="#1f4570" stroke-width="1.22"/>
<circle cx="111.3" cy="541.8" r="2.1" fill="none" stroke="#1f4570" stroke-width="1.22"/>
<circle cx="117.8" cy="541.8" r="2.1" fill="none" stroke="#1f4570" stroke-width="1.22"/>
<circle cx="123.7" cy="540.8" r="2.1" fill="none" stroke="#1f4570" stroke-width="1.22"/>
<circle cx="98.4" cy="549.3" r="2.1" fill="none" stroke="#1f4570" stroke-width="1.22"/>
<circle cx="104.8" cy="550.9" r="2.1" fill="none" stroke="#1f4570" stroke-width="1.22"/>
<circle cx="111.1" cy="549.2" r="2.1" fill="none" stroke="#1f4570" stroke-width="1.22"/>
<circle cx="117.5" cy="552.3" r="2.1" fill="none" stroke="#1f4570" stroke-width="1.22"/>
<circle cx="123.7" cy="553.6" r="2.1" fill="none" stroke="#1f4570" stroke-width="1.22"/>
<circle cx="130.1" cy="549.3" r="2.1" fill="none" stroke="#1f4570" stroke-width="1.22"/>
<circle cx="117.2" cy="557.6" r="2.1" fill="none" stroke="#1f4570" stroke-width="1.22"/>
<circle cx="104.3" cy="560.9" r="2.1" fill="none" stroke="#1f4570" stroke-width="1.22"/>
<circle cx="111.0" cy="561.9" r="2.1" fill="none" stroke="#1f4570" stroke-width="1.22"/>
<circle cx="123.7" cy="560.9" r="2.1" fill="none" stroke="#1f4570" stroke-width="1.22"/>
<circle cx="117.2" cy="564.3" r="2.1" fill="none" stroke="#1f4570" stroke-width="1.22"/>
<circle cx="117.2" cy="568.4" r="2.1" fill="none" stroke="#1f4570" stroke-width="1.22"/>
<circle cx="111.0" cy="571.7" r="2.1" fill="none" stroke="#1f4570" stroke-width="1.22"/>
<circle cx="117.3" cy="572.4" r="2.1" fill="none" stroke="#1f4570" stroke-width="1.22"/>
<circle cx="114.2" cy="578.8" r="2.1" fill="none" stroke="#1f4570" stroke-width="1.22"/>
<circle cx="114.2" cy="592.5" r="2.1" fill="none" stroke="#1f4570" stroke-width="1.22"/>
<circle cx="114.2" cy="600.1" r="2.1" fill="none" stroke="#1f4570" stroke-width="1.22"/>
<circle cx="188.0" cy="432.8" r="2.15" fill="#b80a30" stroke="#8e0828" stroke-width="0.6"/>
<circle cx="188.0" cy="453.8" r="2.15" fill="#b80a30" stroke="#8e0828" stroke-width="0.6"/>
<circle cx="182.5" cy="465.4" r="2.15" fill="#b80a30" stroke="#8e0828" stroke-width="0.6"/>
<circle cx="193.8" cy="466.5" r="2.15" fill="#b80a30" stroke="#8e0828" stroke-width="0.6"/>
<circle cx="188.0" cy="469.9" r="2.15" fill="#b80a30" stroke="#8e0828" stroke-width="0.6"/>
<circle cx="188.0" cy="477.0" r="2.15" fill="#b80a30" stroke="#8e0828" stroke-width="0.6"/>
<circle cx="177.0" cy="481.6" r="2.15" fill="#b80a30" stroke="#8e0828" stroke-width="0.6"/>
<circle cx="188.0" cy="485.5" r="2.15" fill="#b80a30" stroke="#8e0828" stroke-width="0.6"/>
<circle cx="193.8" cy="483.0" r="2.15" fill="#b80a30" stroke="#8e0828" stroke-width="0.6"/>
<circle cx="199.5" cy="484.4" r="2.15" fill="#b80a30" stroke="#8e0828" stroke-width="0.6"/>
<circle cx="177.0" cy="487.6" r="2.15" fill="#b80a30" stroke="#8e0828" stroke-width="0.6"/>
<circle cx="193.8" cy="487.6" r="2.15" fill="#b80a30" stroke="#8e0828" stroke-width="0.6"/>
<circle cx="199.5" cy="488.8" r="2.15" fill="#b80a30" stroke="#8e0828" stroke-width="0.6"/>
<circle cx="182.5" cy="490.8" r="2.15" fill="#b80a30" stroke="#8e0828" stroke-width="0.6"/>
<circle cx="188.0" cy="490.8" r="2.15" fill="#b80a30" stroke="#8e0828" stroke-width="0.6"/>
<circle cx="193.8" cy="495.8" r="2.15" fill="#b80a30" stroke="#8e0828" stroke-width="0.6"/>
<circle cx="182.5" cy="497.6" r="2.15" fill="#b80a30" stroke="#8e0828" stroke-width="0.6"/>
<circle cx="177.0" cy="498.7" r="2.15" fill="#b80a30" stroke="#8e0828" stroke-width="0.6"/>
<circle cx="188.0" cy="501.0" r="2.15" fill="#b80a30" stroke="#8e0828" stroke-width="0.6"/>
<circle cx="193.8" cy="502.6" r="2.15" fill="#b80a30" stroke="#8e0828" stroke-width="0.6"/>
<circle cx="199.5" cy="502.6" r="2.15" fill="#b80a30" stroke="#8e0828" stroke-width="0.6"/>
<circle cx="182.5" cy="503.0" r="2.15" fill="#b80a30" stroke="#8e0828" stroke-width="0.6"/>
<circle cx="165.5" cy="507.6" r="2.15" fill="#b80a30" stroke="#8e0828" stroke-width="0.6"/>
<circle cx="171.3" cy="506.8" r="2.15" fill="#b80a30" stroke="#8e0828" stroke-width="0.6"/>
<circle cx="171.3" cy="511.0" r="2.15" fill="#b80a30" stroke="#8e0828" stroke-width="0.6"/>
<circle cx="177.0" cy="510.7" r="2.15" fill="#b80a30" stroke="#8e0828" stroke-width="0.6"/>
<circle cx="182.5" cy="506.8" r="2.15" fill="#b80a30" stroke="#8e0828" stroke-width="0.6"/>
<circle cx="182.5" cy="511.0" r="2.15" fill="#b80a30" stroke="#8e0828" stroke-width="0.6"/>
<circle cx="182.5" cy="515.0" r="2.15" fill="#b80a30" stroke="#8e0828" stroke-width="0.6"/>
<circle cx="188.0" cy="509.3" r="2.15" fill="#b80a30" stroke="#8e0828" stroke-width="0.6"/>
<circle cx="188.0" cy="513.5" r="2.15" fill="#b80a30" stroke="#8e0828" stroke-width="0.6"/>
<circle cx="193.8" cy="509.9" r="2.15" fill="#b80a30" stroke="#8e0828" stroke-width="0.6"/>
<circle cx="193.8" cy="514.4" r="2.15" fill="#b80a30" stroke="#8e0828" stroke-width="0.6"/>
<circle cx="199.5" cy="509.1" r="2.15" fill="#b80a30" stroke="#8e0828" stroke-width="0.6"/>
<circle cx="205.3" cy="509.1" r="2.15" fill="#b80a30" stroke="#8e0828" stroke-width="0.6"/>
<circle cx="210.8" cy="507.6" r="2.15" fill="#b80a30" stroke="#8e0828" stroke-width="0.6"/>
<circle cx="165.5" cy="520.3" r="2.15" fill="#b80a30" stroke="#8e0828" stroke-width="0.6"/>
<circle cx="182.5" cy="521.0" r="2.15" fill="#b80a30" stroke="#8e0828" stroke-width="0.6"/>
<circle cx="205.3" cy="520.3" r="2.15" fill="#b80a30" stroke="#8e0828" stroke-width="0.6"/>
<circle cx="165.5" cy="525.0" r="2.15" fill="#b80a30" stroke="#8e0828" stroke-width="0.6"/>
<circle cx="171.3" cy="525.0" r="2.15" fill="#b80a30" stroke="#8e0828" stroke-width="0.6"/>
<circle cx="177.0" cy="523.2" r="2.15" fill="#b80a30" stroke="#8e0828" stroke-width="0.6"/>
<circle cx="182.5" cy="527.8" r="2.15" fill="#b80a30" stroke="#8e0828" stroke-width="0.6"/>
<circle cx="188.0" cy="525.0" r="2.15" fill="#b80a30" stroke="#8e0828" stroke-width="0.6"/>
<circle cx="193.8" cy="525.0" r="2.15" fill="#b80a30" stroke="#8e0828" stroke-width="0.6"/>
<circle cx="199.5" cy="525.0" r="2.15" fill="#b80a30" stroke="#8e0828" stroke-width="0.6"/>
<circle cx="205.3" cy="524.4" r="2.15" fill="#b80a30" stroke="#8e0828" stroke-width="0.6"/>
<circle cx="210.8" cy="527.8" r="2.15" fill="#b80a30" stroke="#8e0828" stroke-width="0.6"/>
<circle cx="188.0" cy="533.0" r="2.15" fill="#b80a30" stroke="#8e0828" stroke-width="0.6"/>
<circle cx="182.5" cy="538.8" r="2.15" fill="#b80a30" stroke="#8e0828" stroke-width="0.6"/>
<circle cx="188.0" cy="539.4" r="2.15" fill="#b80a30" stroke="#8e0828" stroke-width="0.6"/>
<circle cx="193.8" cy="538.8" r="2.15" fill="#b80a30" stroke="#8e0828" stroke-width="0.6"/>
<circle cx="199.5" cy="540.7" r="2.15" fill="#b80a30" stroke="#8e0828" stroke-width="0.6"/>
<circle cx="177.0" cy="541.8" r="2.15" fill="#b80a30" stroke="#8e0828" stroke-width="0.6"/>
<circle cx="165.5" cy="543.6" r="2.15" fill="#b80a30" stroke="#8e0828" stroke-width="0.6"/>
<circle cx="171.3" cy="544.4" r="2.15" fill="#b80a30" stroke="#8e0828" stroke-width="0.6"/>
<circle cx="193.8" cy="543.6" r="2.15" fill="#b80a30" stroke="#8e0828" stroke-width="0.6"/>
<circle cx="165.5" cy="550.1" r="2.15" fill="#b80a30" stroke="#8e0828" stroke-width="0.6"/>
<circle cx="171.3" cy="550.1" r="2.15" fill="#b80a30" stroke="#8e0828" stroke-width="0.6"/>
<circle cx="177.0" cy="549.0" r="2.15" fill="#b80a30" stroke="#8e0828" stroke-width="0.6"/>
<circle cx="182.5" cy="547.8" r="2.15" fill="#b80a30" stroke="#8e0828" stroke-width="0.6"/>
<circle cx="182.5" cy="552.4" r="2.15" fill="#b80a30" stroke="#8e0828" stroke-width="0.6"/>
<circle cx="188.0" cy="549.5" r="2.15" fill="#b80a30" stroke="#8e0828" stroke-width="0.6"/>
<circle cx="188.0" cy="554.7" r="2.15" fill="#b80a30" stroke="#8e0828" stroke-width="0.6"/>
<circle cx="193.8" cy="553.6" r="2.15" fill="#b80a30" stroke="#8e0828" stroke-width="0.6"/>
<circle cx="199.5" cy="551.8" r="2.15" fill="#b80a30" stroke="#8e0828" stroke-width="0.6"/>
<circle cx="205.3" cy="546.7" r="2.15" fill="#b80a30" stroke="#8e0828" stroke-width="0.6"/>
<circle cx="205.3" cy="551.3" r="2.15" fill="#b80a30" stroke="#8e0828" stroke-width="0.6"/>
<circle cx="210.8" cy="551.6" r="2.15" fill="#b80a30" stroke="#8e0828" stroke-width="0.6"/>
<circle cx="177.0" cy="565.9" r="2.15" fill="#b80a30" stroke="#8e0828" stroke-width="0.6"/>
<circle cx="182.5" cy="567.0" r="2.15" fill="#b80a30" stroke="#8e0828" stroke-width="0.6"/>
<circle cx="188.0" cy="568.0" r="2.15" fill="#b80a30" stroke="#8e0828" stroke-width="0.6"/>
<circle cx="193.8" cy="564.8" r="2.15" fill="#b80a30" stroke="#8e0828" stroke-width="0.6"/>
<circle cx="199.5" cy="567.0" r="2.15" fill="#b80a30" stroke="#8e0828" stroke-width="0.6"/>
<circle cx="193.8" cy="573.6" r="2.15" fill="#b80a30" stroke="#8e0828" stroke-width="0.6"/>
<circle cx="171.3" cy="578.7" r="2.15" fill="#b80a30" stroke="#8e0828" stroke-width="0.6"/>
<circle cx="177.0" cy="576.7" r="2.15" fill="#b80a30" stroke="#8e0828" stroke-width="0.6"/>
<circle cx="182.5" cy="578.7" r="2.15" fill="#b80a30" stroke="#8e0828" stroke-width="0.6"/>
<circle cx="188.0" cy="577.5" r="2.15" fill="#b80a30" stroke="#8e0828" stroke-width="0.6"/>
<circle cx="193.8" cy="578.7" r="2.15" fill="#b80a30" stroke="#8e0828" stroke-width="0.6"/>
<circle cx="199.5" cy="578.7" r="2.15" fill="#b80a30" stroke="#8e0828" stroke-width="0.6"/>
<circle cx="205.3" cy="578.7" r="2.15" fill="#b80a30" stroke="#8e0828" stroke-width="0.6"/>
<circle cx="386.0" cy="416.3" r="2.1" fill="none" stroke="#1f4570" stroke-width="1.22"/>
<circle cx="382.3" cy="439.0" r="2.1" fill="none" stroke="#1f4570" stroke-width="1.22"/>
<circle cx="389.7" cy="438.2" r="2.1" fill="none" stroke="#1f4570" stroke-width="1.22"/>
<circle cx="378.5" cy="447.4" r="2.1" fill="none" stroke="#1f4570" stroke-width="1.22"/>
<circle cx="386.0" cy="451.2" r="2.1" fill="none" stroke="#1f4570" stroke-width="1.22"/>
<circle cx="386.0" cy="456.4" r="2.1" fill="none" stroke="#1f4570" stroke-width="1.22"/>
<circle cx="386.0" cy="466.5" r="2.1" fill="none" stroke="#1f4570" stroke-width="1.22"/>
<circle cx="386.0" cy="471.6" r="2.1" fill="none" stroke="#1f4570" stroke-width="1.22"/>
<circle cx="378.5" cy="476.6" r="2.1" fill="none" stroke="#1f4570" stroke-width="1.22"/>
<circle cx="386.0" cy="476.6" r="2.1" fill="none" stroke="#1f4570" stroke-width="1.22"/>
<circle cx="370.8" cy="480.3" r="2.1" fill="none" stroke="#1f4570" stroke-width="1.22"/>
<circle cx="378.3" cy="481.2" r="2.1" fill="none" stroke="#1f4570" stroke-width="1.22"/>
<circle cx="386.0" cy="481.8" r="2.1" fill="none" stroke="#1f4570" stroke-width="1.22"/>
<circle cx="393.5" cy="480.3" r="2.1" fill="none" stroke="#1f4570" stroke-width="1.22"/>
<circle cx="401.2" cy="480.3" r="2.1" fill="none" stroke="#1f4570" stroke-width="1.22"/>
<circle cx="382.2" cy="486.3" r="2.1" fill="none" stroke="#1f4570" stroke-width="1.22"/>
<circle cx="389.6" cy="487.0" r="2.1" fill="none" stroke="#1f4570" stroke-width="1.22"/>
<circle cx="386.0" cy="494.5" r="2.1" fill="none" stroke="#1f4570" stroke-width="1.22"/>
<circle cx="378.0" cy="499.4" r="2.1" fill="none" stroke="#1f4570" stroke-width="1.22"/>
<circle cx="386.0" cy="499.4" r="2.1" fill="none" stroke="#1f4570" stroke-width="1.22"/>
<circle cx="393.4" cy="500.9" r="2.1" fill="none" stroke="#1f4570" stroke-width="1.22"/>
<circle cx="386.0" cy="504.0" r="2.1" fill="none" stroke="#1f4570" stroke-width="1.22"/>
<circle cx="393.4" cy="505.2" r="2.1" fill="none" stroke="#1f4570" stroke-width="1.22"/>
<circle cx="363.2" cy="506.7" r="2.1" fill="none" stroke="#1f4570" stroke-width="1.22"/>
<circle cx="363.2" cy="511.6" r="2.1" fill="none" stroke="#1f4570" stroke-width="1.22"/>
<circle cx="370.6" cy="510.9" r="2.1" fill="none" stroke="#1f4570" stroke-width="1.22"/>
<circle cx="378.0" cy="510.6" r="2.1" fill="none" stroke="#1f4570" stroke-width="1.22"/>
<circle cx="378.0" cy="514.9" r="2.1" fill="none" stroke="#1f4570" stroke-width="1.22"/>
<circle cx="378.0" cy="520.5" r="2.1" fill="none" stroke="#1f4570" stroke-width="1.22"/>
<circle cx="386.0" cy="508.2" r="2.1" fill="none" stroke="#1f4570" stroke-width="1.22"/>
<circle cx="386.0" cy="513.1" r="2.1" fill="none" stroke="#1f4570" stroke-width="1.22"/>
<circle cx="386.0" cy="517.4" r="2.1" fill="none" stroke="#1f4570" stroke-width="1.22"/>
<circle cx="386.0" cy="520.8" r="2.1" fill="none" stroke="#1f4570" stroke-width="1.22"/>
<circle cx="393.4" cy="510.6" r="2.1" fill="none" stroke="#1f4570" stroke-width="1.22"/>
<circle cx="393.4" cy="517.4" r="2.1" fill="none" stroke="#1f4570" stroke-width="1.22"/>
<circle cx="393.4" cy="522.9" r="2.1" fill="none" stroke="#1f4570" stroke-width="1.22"/>
<circle cx="401.4" cy="512.5" r="2.1" fill="none" stroke="#1f4570" stroke-width="1.22"/>
<circle cx="401.4" cy="517.0" r="2.1" fill="none" stroke="#1f4570" stroke-width="1.22"/>
<circle cx="408.8" cy="510.9" r="2.1" fill="none" stroke="#1f4570" stroke-width="1.22"/>
<circle cx="370.6" cy="519.3" r="2.1" fill="none" stroke="#1f4570" stroke-width="1.22"/>
<circle cx="378.0" cy="526.8" r="2.1" fill="none" stroke="#1f4570" stroke-width="1.22"/>
<circle cx="386.0" cy="526.8" r="2.1" fill="none" stroke="#1f4570" stroke-width="1.22"/>
<circle cx="363.2" cy="528.6" r="2.1" fill="none" stroke="#1f4570" stroke-width="1.22"/>
<circle cx="370.6" cy="529.6" r="2.1" fill="none" stroke="#1f4570" stroke-width="1.22"/>
<circle cx="401.4" cy="528.0" r="2.1" fill="none" stroke="#1f4570" stroke-width="1.22"/>
<circle cx="393.4" cy="530.5" r="2.1" fill="none" stroke="#1f4570" stroke-width="1.22"/>
<circle cx="363.2" cy="533.5" r="2.1" fill="none" stroke="#1f4570" stroke-width="1.22"/>
<circle cx="370.6" cy="534.8" r="2.1" fill="none" stroke="#1f4570" stroke-width="1.22"/>
<circle cx="378.0" cy="532.3" r="2.1" fill="none" stroke="#1f4570" stroke-width="1.22"/>
<circle cx="386.0" cy="533.5" r="2.1" fill="none" stroke="#1f4570" stroke-width="1.22"/>
<circle cx="393.4" cy="535.4" r="2.1" fill="none" stroke="#1f4570" stroke-width="1.22"/>
<circle cx="401.4" cy="535.4" r="2.1" fill="none" stroke="#1f4570" stroke-width="1.22"/>
<circle cx="408.8" cy="534.5" r="2.1" fill="none" stroke="#1f4570" stroke-width="1.22"/>
<circle cx="370.6" cy="539.6" r="2.1" fill="none" stroke="#1f4570" stroke-width="1.22"/>
<circle cx="378.0" cy="542.2" r="2.1" fill="none" stroke="#1f4570" stroke-width="1.22"/>
<circle cx="386.0" cy="543.1" r="2.1" fill="none" stroke="#1f4570" stroke-width="1.22"/>
<circle cx="401.4" cy="543.1" r="2.1" fill="none" stroke="#1f4570" stroke-width="1.22"/>
<circle cx="363.2" cy="546.6" r="2.1" fill="none" stroke="#1f4570" stroke-width="1.22"/>
<circle cx="370.6" cy="545.4" r="2.1" fill="none" stroke="#1f4570" stroke-width="1.22"/>
<circle cx="370.6" cy="550.3" r="2.1" fill="none" stroke="#1f4570" stroke-width="1.22"/>
<circle cx="386.0" cy="548.8" r="2.1" fill="none" stroke="#1f4570" stroke-width="1.22"/>
<circle cx="393.4" cy="546.6" r="2.1" fill="none" stroke="#1f4570" stroke-width="1.22"/>
<circle cx="401.4" cy="549.7" r="2.1" fill="none" stroke="#1f4570" stroke-width="1.22"/>
<circle cx="408.8" cy="546.6" r="2.1" fill="none" stroke="#1f4570" stroke-width="1.22"/>
<circle cx="378.0" cy="550.9" r="2.1" fill="none" stroke="#1f4570" stroke-width="1.22"/>
<circle cx="378.0" cy="555.7" r="2.1" fill="none" stroke="#1f4570" stroke-width="1.22"/>
<circle cx="393.4" cy="551.5" r="2.1" fill="none" stroke="#1f4570" stroke-width="1.22"/>
<circle cx="393.4" cy="556.4" r="2.1" fill="none" stroke="#1f4570" stroke-width="1.22"/>
<circle cx="386.0" cy="558.2" r="2.1" fill="none" stroke="#1f4570" stroke-width="1.22"/>
<circle cx="370.6" cy="559.1" r="2.1" fill="none" stroke="#1f4570" stroke-width="1.22"/>
<circle cx="401.4" cy="558.5" r="2.1" fill="none" stroke="#1f4570" stroke-width="1.22"/>
<circle cx="378.0" cy="562.0" r="2.1" fill="none" stroke="#1f4570" stroke-width="1.22"/>
<circle cx="370.6" cy="564.8" r="2.1" fill="none" stroke="#1f4570" stroke-width="1.22"/>
<circle cx="386.0" cy="564.2" r="2.1" fill="none" stroke="#1f4570" stroke-width="1.22"/>
<circle cx="401.4" cy="565.5" r="2.1" fill="none" stroke="#1f4570" stroke-width="1.22"/>
<circle cx="378.0" cy="569.2" r="2.1" fill="none" stroke="#1f4570" stroke-width="1.22"/>
<circle cx="378.0" cy="574.1" r="2.1" fill="none" stroke="#1f4570" stroke-width="1.22"/>
<circle cx="386.0" cy="570.0" r="2.1" fill="none" stroke="#1f4570" stroke-width="1.22"/>
<circle cx="393.4" cy="567.3" r="2.1" fill="none" stroke="#1f4570" stroke-width="1.22"/>
<circle cx="393.4" cy="574.1" r="2.1" fill="none" stroke="#1f4570" stroke-width="1.22"/>
<circle cx="370.6" cy="577.6" r="2.1" fill="none" stroke="#1f4570" stroke-width="1.22"/>
<circle cx="370.6" cy="581.8" r="2.1" fill="none" stroke="#1f4570" stroke-width="1.22"/>
<circle cx="378.0" cy="580.0" r="2.1" fill="none" stroke="#1f4570" stroke-width="1.22"/>
<circle cx="386.0" cy="579.1" r="2.1" fill="none" stroke="#1f4570" stroke-width="1.22"/>
<circle cx="393.4" cy="580.3" r="2.1" fill="none" stroke="#1f4570" stroke-width="1.22"/>
<circle cx="378.0" cy="584.0" r="2.1" fill="none" stroke="#1f4570" stroke-width="1.22"/>
<circle cx="386.0" cy="583.4" r="2.1" fill="none" stroke="#1f4570" stroke-width="1.22"/>
<circle cx="386.0" cy="595.0" r="2.1" fill="none" stroke="#1f4570" stroke-width="1.22"/>
<circle cx="378.0" cy="598.2" r="2.1" fill="none" stroke="#1f4570" stroke-width="1.22"/>
<circle cx="393.4" cy="599.6" r="2.1" fill="none" stroke="#1f4570" stroke-width="1.22"/>
<circle cx="382.2" cy="605.4" r="2.1" fill="none" stroke="#1f4570" stroke-width="1.22"/>
<circle cx="389.7" cy="604.8" r="2.1" fill="none" stroke="#1f4570" stroke-width="1.22"/>
<circle cx="460.0" cy="476.9" r="2.15" fill="#b80a30" stroke="#8e0828" stroke-width="0.6"/>
<circle cx="460.0" cy="482.9" r="2.15" fill="#b80a30" stroke="#8e0828" stroke-width="0.6"/>
<circle cx="454.5" cy="485.9" r="2.15" fill="#b80a30" stroke="#8e0828" stroke-width="0.6"/>
<circle cx="465.8" cy="485.9" r="2.15" fill="#b80a30" stroke="#8e0828" stroke-width="0.6"/>
<circle cx="454.5" cy="491.3" r="2.15" fill="#b80a30" stroke="#8e0828" stroke-width="0.6"/>
<circle cx="460.0" cy="490.8" r="2.15" fill="#b80a30" stroke="#8e0828" stroke-width="0.6"/>
<circle cx="460.0" cy="495.2" r="2.15" fill="#b80a30" stroke="#8e0828" stroke-width="0.6"/>
<circle cx="460.0" cy="500.0" r="2.15" fill="#b80a30" stroke="#8e0828" stroke-width="0.6"/>
<circle cx="454.5" cy="503.0" r="2.15" fill="#b80a30" stroke="#8e0828" stroke-width="0.6"/>
<circle cx="454.5" cy="508.1" r="2.15" fill="#b80a30" stroke="#8e0828" stroke-width="0.6"/>
<circle cx="460.0" cy="505.5" r="2.15" fill="#b80a30" stroke="#8e0828" stroke-width="0.6"/>
<circle cx="465.8" cy="504.2" r="2.15" fill="#b80a30" stroke="#8e0828" stroke-width="0.6"/>
<circle cx="448.7" cy="514.8" r="2.15" fill="#b80a30" stroke="#8e0828" stroke-width="0.6"/>
<circle cx="454.5" cy="513.0" r="2.15" fill="#b80a30" stroke="#8e0828" stroke-width="0.6"/>
<circle cx="460.0" cy="514.8" r="2.15" fill="#b80a30" stroke="#8e0828" stroke-width="0.6"/>
<circle cx="465.8" cy="515.3" r="2.15" fill="#b80a30" stroke="#8e0828" stroke-width="0.6"/>
<circle cx="448.7" cy="519.0" r="2.15" fill="#b80a30" stroke="#8e0828" stroke-width="0.6"/>
<circle cx="454.5" cy="520.8" r="2.15" fill="#b80a30" stroke="#8e0828" stroke-width="0.6"/>
<circle cx="460.0" cy="521.8" r="2.15" fill="#b80a30" stroke="#8e0828" stroke-width="0.6"/>
<circle cx="471.5" cy="519.3" r="2.15" fill="#b80a30" stroke="#8e0828" stroke-width="0.6"/>
<circle cx="448.7" cy="532.1" r="2.15" fill="#b80a30" stroke="#8e0828" stroke-width="0.6"/>
<circle cx="454.5" cy="532.8" r="2.15" fill="#b80a30" stroke="#8e0828" stroke-width="0.6"/>
<circle cx="460.0" cy="529.5" r="2.15" fill="#b80a30" stroke="#8e0828" stroke-width="0.6"/>
<circle cx="460.0" cy="533.0" r="2.15" fill="#b80a30" stroke="#8e0828" stroke-width="0.6"/>
<circle cx="460.0" cy="536.5" r="2.15" fill="#b80a30" stroke="#8e0828" stroke-width="0.6"/>
<circle cx="460.0" cy="540.5" r="2.15" fill="#b80a30" stroke="#8e0828" stroke-width="0.6"/>
<circle cx="460.0" cy="544.4" r="2.15" fill="#b80a30" stroke="#8e0828" stroke-width="0.6"/>
<circle cx="471.5" cy="530.1" r="2.15" fill="#b80a30" stroke="#8e0828" stroke-width="0.6"/>
<circle cx="471.5" cy="535.3" r="2.15" fill="#b80a30" stroke="#8e0828" stroke-width="0.6"/>
<circle cx="437.5" cy="537.6" r="2.15" fill="#b80a30" stroke="#8e0828" stroke-width="0.6"/>
<circle cx="437.5" cy="542.2" r="2.15" fill="#b80a30" stroke="#8e0828" stroke-width="0.6"/>
<circle cx="443.3" cy="541.1" r="2.15" fill="#b80a30" stroke="#8e0828" stroke-width="0.6"/>
<circle cx="448.7" cy="541.7" r="2.15" fill="#b80a30" stroke="#8e0828" stroke-width="0.6"/>
<circle cx="454.5" cy="538.8" r="2.15" fill="#b80a30" stroke="#8e0828" stroke-width="0.6"/>
<circle cx="465.8" cy="541.1" r="2.15" fill="#b80a30" stroke="#8e0828" stroke-width="0.6"/>
<circle cx="471.5" cy="542.5" r="2.15" fill="#b80a30" stroke="#8e0828" stroke-width="0.6"/>
<circle cx="476.7" cy="538.8" r="2.15" fill="#b80a30" stroke="#8e0828" stroke-width="0.6"/>
<circle cx="477.0" cy="544.3" r="2.15" fill="#b80a30" stroke="#8e0828" stroke-width="0.6"/>
<circle cx="482.8" cy="542.5" r="2.15" fill="#b80a30" stroke="#8e0828" stroke-width="0.6"/>
<circle cx="454.5" cy="544.2" r="2.15" fill="#b80a30" stroke="#8e0828" stroke-width="0.6"/>
<circle cx="443.3" cy="547.2" r="2.15" fill="#b80a30" stroke="#8e0828" stroke-width="0.6"/>
<circle cx="448.7" cy="548.1" r="2.15" fill="#b80a30" stroke="#8e0828" stroke-width="0.6"/>
<circle cx="454.5" cy="550.6" r="2.15" fill="#b80a30" stroke="#8e0828" stroke-width="0.6"/>
<circle cx="460.0" cy="550.4" r="2.15" fill="#b80a30" stroke="#8e0828" stroke-width="0.6"/>
<circle cx="465.8" cy="548.1" r="2.15" fill="#b80a30" stroke="#8e0828" stroke-width="0.6"/>
<circle cx="471.5" cy="551.5" r="2.15" fill="#b80a30" stroke="#8e0828" stroke-width="0.6"/>
<circle cx="465.8" cy="553.6" r="2.15" fill="#b80a30" stroke="#8e0828" stroke-width="0.6"/>
<circle cx="454.5" cy="556.2" r="2.15" fill="#b80a30" stroke="#8e0828" stroke-width="0.6"/>
<circle cx="460.0" cy="556.7" r="2.15" fill="#b80a30" stroke="#8e0828" stroke-width="0.6"/>
<circle cx="465.8" cy="558.5" r="2.15" fill="#b80a30" stroke="#8e0828" stroke-width="0.6"/>
<circle cx="454.5" cy="560.8" r="2.15" fill="#b80a30" stroke="#8e0828" stroke-width="0.6"/>
<circle cx="460.0" cy="561.7" r="2.15" fill="#b80a30" stroke="#8e0828" stroke-width="0.6"/>
<circle cx="454.5" cy="567.8" r="2.15" fill="#b80a30" stroke="#8e0828" stroke-width="0.6"/>
<circle cx="465.8" cy="568.9" r="2.15" fill="#b80a30" stroke="#8e0828" stroke-width="0.6"/>
<circle cx="471.5" cy="568.9" r="2.15" fill="#b80a30" stroke="#8e0828" stroke-width="0.6"/>
<circle cx="448.7" cy="573.0" r="2.15" fill="#b80a30" stroke="#8e0828" stroke-width="0.6"/>
<circle cx="454.5" cy="572.1" r="2.15" fill="#b80a30" stroke="#8e0828" stroke-width="0.6"/>
<circle cx="454.5" cy="577.8" r="2.15" fill="#b80a30" stroke="#8e0828" stroke-width="0.6"/>
<circle cx="460.0" cy="576.1" r="2.15" fill="#b80a30" stroke="#8e0828" stroke-width="0.6"/>
<circle cx="465.8" cy="575.8" r="2.15" fill="#b80a30" stroke="#8e0828" stroke-width="0.6"/>
<circle cx="471.5" cy="575.5" r="2.15" fill="#b80a30" stroke="#8e0828" stroke-width="0.6"/>
<circle cx="465.8" cy="583.6" r="2.15" fill="#b80a30" stroke="#8e0828" stroke-width="0.6"/>
<circle cx="460.0" cy="586.5" r="2.15" fill="#b80a30" stroke="#8e0828" stroke-width="0.6"/>
<circle cx="448.7" cy="588.9" r="2.15" fill="#b80a30" stroke="#8e0828" stroke-width="0.6"/>
<circle cx="454.5" cy="591.1" r="2.15" fill="#b80a30" stroke="#8e0828" stroke-width="0.6"/>
<circle cx="460.0" cy="592.6" r="2.15" fill="#b80a30" stroke="#8e0828" stroke-width="0.6"/>
<circle cx="465.8" cy="589.7" r="2.15" fill="#b80a30" stroke="#8e0828" stroke-width="0.6"/>
<circle cx="471.5" cy="592.6" r="2.15" fill="#b80a30" stroke="#8e0828" stroke-width="0.6"/>
<circle cx="448.7" cy="593.5" r="2.15" fill="#b80a30" stroke="#8e0828" stroke-width="0.6"/>
<circle cx="448.7" cy="598.1" r="2.15" fill="#b80a30" stroke="#8e0828" stroke-width="0.6"/>
<circle cx="448.7" cy="602.7" r="2.15" fill="#b80a30" stroke="#8e0828" stroke-width="0.6"/>
<circle cx="454.5" cy="596.2" r="2.15" fill="#b80a30" stroke="#8e0828" stroke-width="0.6"/>
<circle cx="454.5" cy="601.0" r="2.15" fill="#b80a30" stroke="#8e0828" stroke-width="0.6"/>
<circle cx="454.5" cy="605.6" r="2.15" fill="#b80a30" stroke="#8e0828" stroke-width="0.6"/>
<circle cx="454.5" cy="612.0" r="2.15" fill="#b80a30" stroke="#8e0828" stroke-width="0.6"/>
<circle cx="460.0" cy="599.6" r="2.15" fill="#b80a30" stroke="#8e0828" stroke-width="0.6"/>
<circle cx="460.0" cy="604.2" r="2.15" fill="#b80a30" stroke="#8e0828" stroke-width="0.6"/>
<circle cx="460.0" cy="608.5" r="2.15" fill="#b80a30" stroke="#8e0828" stroke-width="0.6"/>
<circle cx="465.8" cy="595.0" r="2.15" fill="#b80a30" stroke="#8e0828" stroke-width="0.6"/>
<circle cx="465.8" cy="599.6" r="2.15" fill="#b80a30" stroke="#8e0828" stroke-width="0.6"/>
<circle cx="465.8" cy="613.9" r="2.15" fill="#b80a30" stroke="#8e0828" stroke-width="0.6"/>
<circle cx="460.0" cy="630.0" r="2.15" fill="#b80a30" stroke="#8e0828" stroke-width="0.6"/>
<circle cx="460.0" cy="649.6" r="2.15" fill="#b80a30" stroke="#8e0828" stroke-width="0.6"/>
<path d="M374.9 151.8 H397.9 M361.79999999999995 192.5 H411.0 M374.9 219.1 H397.9" stroke="#050505" stroke-width="1.3" fill="none"/>
<path d="M448.7 128.5 H471.7 M435.9 148.7 H484.5 M448.7 186.7 H471.7" stroke="#050505" stroke-width="1.3" fill="none"/>
<path d="M103.10000000000001 487.5 H125.7 M90.2 512.0 H138.6 M103.10000000000001 537.5 H125.7" stroke="#050505" stroke-width="1.3" fill="none"/>
<path d="M176.1 503.0 H200.1 M164.29999999999998 525.0 H211.9 M176.1 550.1 H200.1" stroke="#050505" stroke-width="1.3" fill="none"/>
<path d="M374.4 505.6 H397.6 M361.4 532.3 H410.6 M374.4 558.8 H397.6" stroke="#050505" stroke-width="1.3" fill="none"/>
<path d="M447.70000000000005 527.8 H472.5 M435.70000000000005 548.3 H484.5 M447.70000000000005 587.2 H472.5" stroke="#050505" stroke-width="1.3" fill="none"/>
</svg>
</body></html>
